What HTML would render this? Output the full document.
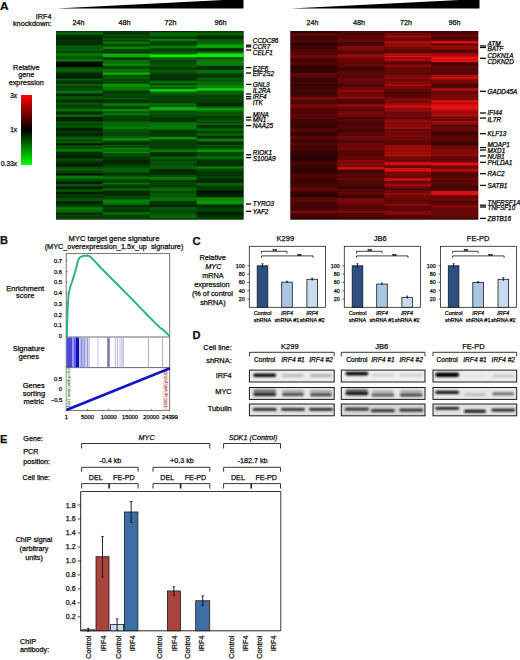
<!DOCTYPE html>
<html><head><meta charset="utf-8"><style>
html,body{margin:0;padding:0;background:#fff;}
svg{display:block;font-family:"Liberation Sans",sans-serif;}
text{stroke:#000;stroke-width:0.25px;paint-order:stroke;}
</style></head><body>
<svg width="520" height="660" viewBox="0 0 520 660">
<text transform="translate(0,9.8) scale(1.12,1)" font-size="10.6" font-weight="bold" fill="#111">A</text>
<text x="51.5" y="19.4" font-size="7.3" text-anchor="end" font-weight="normal" font-style="normal" fill="#111" >IRF4</text>
<text x="51.5" y="26.4" font-size="7.3" text-anchor="end" font-weight="normal" font-style="normal" fill="#111" >knockdown:</text>
<path d="M56,8.5 L243.5,-1 L243.5,8.5 Z" fill="#000" stroke="none" stroke-width="0.8" />
<path d="M290.5,8.5 L479.5,-1 L479.5,8.5 Z" fill="#000" stroke="none" stroke-width="0.8" />
<text x="78.5" y="25.3" font-size="7.2" text-anchor="middle" font-weight="normal" font-style="normal" fill="#111" >24h</text>
<text x="124.5" y="25.3" font-size="7.2" text-anchor="middle" font-weight="normal" font-style="normal" fill="#111" >48h</text>
<text x="170.5" y="25.3" font-size="7.2" text-anchor="middle" font-weight="normal" font-style="normal" fill="#111" >72h</text>
<text x="220.4" y="25.3" font-size="7.2" text-anchor="middle" font-weight="normal" font-style="normal" fill="#111" >96h</text>
<text x="312.5" y="25.3" font-size="7.2" text-anchor="middle" font-weight="normal" font-style="normal" fill="#111" >24h</text>
<text x="358.9" y="25.3" font-size="7.2" text-anchor="middle" font-weight="normal" font-style="normal" fill="#111" >48h</text>
<text x="406" y="25.3" font-size="7.2" text-anchor="middle" font-weight="normal" font-style="normal" fill="#111" >72h</text>
<text x="454.4" y="25.3" font-size="7.2" text-anchor="middle" font-weight="normal" font-style="normal" fill="#111" >96h</text>
<rect x="56" y="31" width="187.5" height="188.5" fill="rgb(4,73,3)" />
<rect x="56.0" y="31" width="47.27" height="1" fill="rgb(3,66,3)" />
<rect x="56.0" y="32" width="47.27" height="1" fill="rgb(5,91,4)" />
<rect x="56.0" y="33" width="47.27" height="1" fill="rgb(6,111,5)" />
<rect x="56.0" y="34" width="47.27" height="1" fill="rgb(4,79,3)" />
<rect x="56.0" y="35" width="47.27" height="1" fill="rgb(3,60,3)" />
<rect x="56.0" y="36" width="47.27" height="1" fill="rgb(2,39,1)" />
<rect x="56.0" y="37" width="47.27" height="1" fill="rgb(2,47,2)" />
<rect x="56.0" y="38" width="47.27" height="1" fill="rgb(2,40,2)" />
<rect x="56.0" y="39" width="47.27" height="1" fill="rgb(2,38,1)" />
<rect x="56.0" y="40" width="47.27" height="1" fill="rgb(2,48,2)" />
<rect x="56.0" y="41" width="47.27" height="1" fill="rgb(3,54,2)" />
<rect x="56.0" y="42" width="47.27" height="2" fill="rgb(2,46,2)" />
<rect x="56.0" y="44" width="47.27" height="1" fill="rgb(2,44,2)" />
<rect x="56.0" y="45" width="47.27" height="1" fill="rgb(4,79,3)" />
<rect x="56.0" y="46" width="47.27" height="2" fill="rgb(5,92,4)" />
<rect x="56.0" y="48" width="47.27" height="1" fill="rgb(5,89,4)" />
<rect x="56.0" y="49" width="47.27" height="2" fill="rgb(5,96,4)" />
<rect x="56.0" y="51" width="47.27" height="2" fill="rgb(4,73,3)" />
<rect x="56.0" y="53" width="47.27" height="1" fill="rgb(6,112,5)" />
<rect x="56.0" y="54" width="47.27" height="2" fill="rgb(7,118,5)" />
<rect x="56.0" y="56" width="47.27" height="1" fill="rgb(5,86,4)" />
<rect x="56.0" y="57" width="47.27" height="2" fill="rgb(5,83,4)" />
<rect x="56.0" y="59" width="47.27" height="1" fill="rgb(7,119,5)" />
<rect x="56.0" y="60" width="47.27" height="1" fill="rgb(7,120,6)" />
<rect x="56.0" y="61" width="47.27" height="1" fill="rgb(4,74,3)" />
<rect x="56.0" y="62" width="47.27" height="2" fill="rgb(0,9,0)" />
<rect x="56.0" y="64" width="47.27" height="3" fill="rgb(0,8,0)" />
<rect x="56.0" y="67" width="47.27" height="1" fill="rgb(4,74,3)" />
<rect x="56.0" y="68" width="47.27" height="1" fill="rgb(5,87,4)" />
<rect x="56.0" y="69" width="47.27" height="1" fill="rgb(5,89,4)" />
<rect x="56.0" y="70" width="47.27" height="1" fill="rgb(6,104,5)" />
<rect x="56.0" y="71" width="47.27" height="1" fill="rgb(5,88,4)" />
<rect x="56.0" y="72" width="47.27" height="1" fill="rgb(4,66,3)" />
<rect x="56.0" y="73" width="47.27" height="2" fill="rgb(2,43,2)" />
<rect x="56.0" y="75" width="47.27" height="1" fill="rgb(2,34,1)" />
<rect x="56.0" y="76" width="47.27" height="2" fill="rgb(2,35,1)" />
<rect x="56.0" y="78" width="47.27" height="1" fill="rgb(2,49,2)" />
<rect x="56.0" y="79" width="47.27" height="1" fill="rgb(6,101,5)" />
<rect x="56.0" y="80" width="47.27" height="1" fill="rgb(4,73,3)" />
<rect x="56.0" y="81" width="47.27" height="1" fill="rgb(3,61,3)" />
<rect x="56.0" y="82" width="47.27" height="1" fill="rgb(2,40,2)" />
<rect x="56.0" y="83" width="47.27" height="1" fill="rgb(3,58,2)" />
<rect x="56.0" y="84" width="47.27" height="1" fill="rgb(5,96,4)" />
<rect x="56.0" y="85" width="47.27" height="2" fill="rgb(4,82,4)" />
<rect x="56.0" y="87" width="47.27" height="1" fill="rgb(3,59,2)" />
<rect x="56.0" y="88" width="47.27" height="2" fill="rgb(4,76,3)" />
<rect x="56.0" y="90" width="47.27" height="1" fill="rgb(5,90,4)" />
<rect x="56.0" y="91" width="47.27" height="1" fill="rgb(6,113,5)" />
<rect x="56.0" y="92" width="47.27" height="1" fill="rgb(7,120,6)" />
<rect x="56.0" y="93" width="47.27" height="1" fill="rgb(4,75,3)" />
<rect x="56.0" y="94" width="47.27" height="2" fill="rgb(2,38,1)" />
<rect x="56.0" y="96" width="47.27" height="1" fill="rgb(4,77,3)" />
<rect x="56.0" y="97" width="47.27" height="2" fill="rgb(4,82,4)" />
<rect x="56.0" y="99" width="47.27" height="1" fill="rgb(4,68,3)" />
<rect x="56.0" y="100" width="47.27" height="1" fill="rgb(2,36,1)" />
<rect x="56.0" y="101" width="47.27" height="1" fill="rgb(2,45,2)" />
<rect x="56.0" y="102" width="47.27" height="1" fill="rgb(4,71,3)" />
<rect x="56.0" y="103" width="47.27" height="1" fill="rgb(5,83,4)" />
<rect x="56.0" y="104" width="47.27" height="1" fill="rgb(4,78,3)" />
<rect x="56.0" y="105" width="47.27" height="1" fill="rgb(3,62,3)" />
<rect x="56.0" y="106" width="47.27" height="1" fill="rgb(3,64,3)" />
<rect x="56.0" y="107" width="47.27" height="1" fill="rgb(4,69,3)" />
<rect x="56.0" y="108" width="47.27" height="1" fill="rgb(4,81,4)" />
<rect x="56.0" y="109" width="47.27" height="2" fill="rgb(6,114,5)" />
<rect x="56.0" y="111" width="47.27" height="1" fill="rgb(4,78,3)" />
<rect x="56.0" y="112" width="47.27" height="1" fill="rgb(2,45,2)" />
<rect x="56.0" y="113" width="47.27" height="1" fill="rgb(2,40,2)" />
<rect x="56.0" y="114" width="47.27" height="1" fill="rgb(4,81,4)" />
<rect x="56.0" y="115" width="47.27" height="1" fill="rgb(6,103,5)" />
<rect x="56.0" y="116" width="47.27" height="1" fill="rgb(5,96,4)" />
<rect x="56.0" y="117" width="47.27" height="3" fill="rgb(1,30,1)" />
<rect x="56.0" y="120" width="47.27" height="1" fill="rgb(1,29,1)" />
<rect x="56.0" y="121" width="47.27" height="1" fill="rgb(3,64,3)" />
<rect x="56.0" y="122" width="47.27" height="1" fill="rgb(5,89,4)" />
<rect x="56.0" y="123" width="47.27" height="2" fill="rgb(4,73,3)" />
<rect x="56.0" y="125" width="47.27" height="1" fill="rgb(4,79,3)" />
<rect x="56.0" y="126" width="47.27" height="1" fill="rgb(5,91,4)" />
<rect x="56.0" y="127" width="47.27" height="1" fill="rgb(4,78,3)" />
<rect x="56.0" y="128" width="47.27" height="2" fill="rgb(1,31,1)" />
<rect x="56.0" y="130" width="47.27" height="1" fill="rgb(2,42,2)" />
<rect x="56.0" y="131" width="47.27" height="1" fill="rgb(2,49,2)" />
<rect x="56.0" y="132" width="47.27" height="1" fill="rgb(3,56,2)" />
<rect x="56.0" y="133" width="47.27" height="1" fill="rgb(2,40,2)" />
<rect x="56.0" y="134" width="47.27" height="1" fill="rgb(2,36,1)" />
<rect x="56.0" y="135" width="47.27" height="1" fill="rgb(2,42,2)" />
<rect x="56.0" y="136" width="47.27" height="1" fill="rgb(3,65,3)" />
<rect x="56.0" y="137" width="47.27" height="1" fill="rgb(5,92,4)" />
<rect x="56.0" y="138" width="47.27" height="1" fill="rgb(6,102,5)" />
<rect x="56.0" y="139" width="47.27" height="2" fill="rgb(4,79,3)" />
<rect x="56.0" y="141" width="47.27" height="1" fill="rgb(4,78,3)" />
<rect x="56.0" y="142" width="47.27" height="1" fill="rgb(6,104,5)" />
<rect x="56.0" y="143" width="47.27" height="1" fill="rgb(2,37,1)" />
<rect x="56.0" y="144" width="47.27" height="1" fill="rgb(1,28,1)" />
<rect x="56.0" y="145" width="47.27" height="1" fill="rgb(2,48,2)" />
<rect x="56.0" y="146" width="47.27" height="1" fill="rgb(6,102,5)" />
<rect x="56.0" y="147" width="47.27" height="1" fill="rgb(4,71,3)" />
<rect x="56.0" y="148" width="47.27" height="1" fill="rgb(5,86,4)" />
<rect x="56.0" y="149" width="47.27" height="2" fill="rgb(7,120,6)" />
<rect x="56.0" y="151" width="47.27" height="1" fill="rgb(5,95,4)" />
<rect x="56.0" y="152" width="47.27" height="1" fill="rgb(3,50,2)" />
<rect x="56.0" y="153" width="47.27" height="1" fill="rgb(2,43,2)" />
<rect x="56.0" y="154" width="47.27" height="1" fill="rgb(3,55,2)" />
<rect x="56.0" y="155" width="47.27" height="1" fill="rgb(1,30,1)" />
<rect x="56.0" y="156" width="47.27" height="1" fill="rgb(2,34,1)" />
<rect x="56.0" y="157" width="47.27" height="1" fill="rgb(1,26,1)" />
<rect x="56.0" y="158" width="47.27" height="1" fill="rgb(3,58,2)" />
<rect x="56.0" y="159" width="47.27" height="1" fill="rgb(5,83,4)" />
<rect x="56.0" y="160" width="47.27" height="1" fill="rgb(4,72,3)" />
<rect x="56.0" y="161" width="47.27" height="1" fill="rgb(3,52,2)" />
<rect x="56.0" y="162" width="47.27" height="1" fill="rgb(2,47,2)" />
<rect x="56.0" y="163" width="47.27" height="1" fill="rgb(2,44,2)" />
<rect x="56.0" y="164" width="47.27" height="1" fill="rgb(1,23,1)" />
<rect x="56.0" y="165" width="47.27" height="1" fill="rgb(1,32,1)" />
<rect x="56.0" y="166" width="47.27" height="1" fill="rgb(2,47,2)" />
<rect x="56.0" y="167" width="47.27" height="2" fill="rgb(4,77,3)" />
<rect x="56.0" y="169" width="47.27" height="1" fill="rgb(6,105,5)" />
<rect x="56.0" y="170" width="47.27" height="1" fill="rgb(4,77,3)" />
<rect x="56.0" y="171" width="47.27" height="1" fill="rgb(4,68,3)" />
<rect x="56.0" y="172" width="47.27" height="1" fill="rgb(3,66,3)" />
<rect x="56.0" y="173" width="47.27" height="1" fill="rgb(2,34,1)" />
<rect x="56.0" y="174" width="47.27" height="1" fill="rgb(1,32,1)" />
<rect x="56.0" y="175" width="47.27" height="1" fill="rgb(3,60,3)" />
<rect x="56.0" y="176" width="47.27" height="2" fill="rgb(7,120,6)" />
<rect x="56.0" y="178" width="47.27" height="1" fill="rgb(6,112,5)" />
<rect x="56.0" y="179" width="47.27" height="1" fill="rgb(4,80,4)" />
<rect x="56.0" y="180" width="47.27" height="1" fill="rgb(4,68,3)" />
<rect x="56.0" y="181" width="47.27" height="1" fill="rgb(3,59,2)" />
<rect x="56.0" y="182" width="47.27" height="1" fill="rgb(1,20,1)" />
<rect x="56.0" y="183" width="47.27" height="1" fill="rgb(2,35,1)" />
<rect x="56.0" y="184" width="47.27" height="2" fill="rgb(5,85,4)" />
<rect x="56.0" y="186" width="47.27" height="1" fill="rgb(3,57,2)" />
<rect x="56.0" y="187" width="47.27" height="1" fill="rgb(1,29,1)" />
<rect x="56.0" y="188" width="47.27" height="1" fill="rgb(2,35,1)" />
<rect x="56.0" y="189" width="47.27" height="1" fill="rgb(4,72,3)" />
<rect x="56.0" y="190" width="47.27" height="1" fill="rgb(4,82,4)" />
<rect x="56.0" y="191" width="47.27" height="1" fill="rgb(4,70,3)" />
<rect x="56.0" y="192" width="47.27" height="1" fill="rgb(1,31,1)" />
<rect x="56.0" y="193" width="47.27" height="1" fill="rgb(2,34,1)" />
<rect x="56.0" y="194" width="47.27" height="1" fill="rgb(2,47,2)" />
<rect x="56.0" y="195" width="47.27" height="1" fill="rgb(4,68,3)" />
<rect x="56.0" y="196" width="47.27" height="2" fill="rgb(3,50,2)" />
<rect x="56.0" y="198" width="47.27" height="1" fill="rgb(4,81,4)" />
<rect x="56.0" y="199" width="47.27" height="1" fill="rgb(4,83,4)" />
<rect x="56.0" y="200" width="47.27" height="1" fill="rgb(5,88,4)" />
<rect x="56.0" y="201" width="47.27" height="2" fill="rgb(2,35,1)" />
<rect x="56.0" y="203" width="47.27" height="1" fill="rgb(2,37,1)" />
<rect x="56.0" y="204" width="47.27" height="1" fill="rgb(2,49,2)" />
<rect x="56.0" y="205" width="47.27" height="1" fill="rgb(3,65,3)" />
<rect x="56.0" y="206" width="47.27" height="1" fill="rgb(4,75,3)" />
<rect x="56.0" y="207" width="47.27" height="1" fill="rgb(6,106,5)" />
<rect x="56.0" y="208" width="47.27" height="1" fill="rgb(7,120,6)" />
<rect x="56.0" y="209" width="47.27" height="1" fill="rgb(7,119,5)" />
<rect x="56.0" y="210" width="47.27" height="2" fill="rgb(5,99,4)" />
<rect x="56.0" y="212" width="47.27" height="1" fill="rgb(5,86,4)" />
<rect x="56.0" y="213" width="47.27" height="1" fill="rgb(2,38,1)" />
<rect x="56.0" y="214" width="47.27" height="1" fill="rgb(3,54,2)" />
<rect x="56.0" y="215" width="47.27" height="1" fill="rgb(4,66,3)" />
<rect x="56.0" y="216" width="47.27" height="2" fill="rgb(3,61,3)" />
<rect x="56.0" y="218" width="47.27" height="1.5" fill="rgb(3,66,3)" />
<rect x="102.88" y="31" width="47.27" height="1" fill="rgb(3,54,2)" />
<rect x="102.88" y="32" width="47.27" height="2" fill="rgb(3,56,2)" />
<rect x="102.88" y="34" width="47.27" height="3" fill="rgb(4,70,3)" />
<rect x="102.88" y="37" width="47.27" height="1" fill="rgb(4,67,3)" />
<rect x="102.88" y="38" width="47.27" height="1" fill="rgb(5,84,4)" />
<rect x="102.88" y="39" width="47.27" height="1" fill="rgb(5,89,4)" />
<rect x="102.88" y="40" width="47.27" height="1" fill="rgb(4,69,3)" />
<rect x="102.88" y="41" width="47.27" height="1" fill="rgb(5,86,4)" />
<rect x="102.88" y="42" width="47.27" height="1" fill="rgb(7,123,6)" />
<rect x="102.88" y="43" width="47.27" height="1" fill="rgb(6,101,5)" />
<rect x="102.88" y="44" width="47.27" height="1" fill="rgb(5,84,4)" />
<rect x="102.88" y="45" width="47.27" height="1" fill="rgb(3,61,3)" />
<rect x="102.88" y="46" width="47.27" height="1" fill="rgb(6,104,5)" />
<rect x="102.88" y="47" width="47.27" height="2" fill="rgb(7,126,6)" />
<rect x="102.88" y="49" width="47.27" height="1" fill="rgb(4,70,3)" />
<rect x="102.88" y="50" width="47.27" height="1" fill="rgb(3,65,3)" />
<rect x="102.88" y="51" width="47.27" height="1" fill="rgb(4,74,3)" />
<rect x="102.88" y="52" width="47.27" height="1" fill="rgb(2,49,2)" />
<rect x="102.88" y="53" width="47.27" height="1" fill="rgb(7,119,5)" />
<rect x="102.88" y="54" width="47.27" height="3" fill="rgb(10,176,8)" />
<rect x="102.88" y="57" width="47.27" height="1" fill="rgb(4,83,4)" />
<rect x="102.88" y="58" width="47.27" height="1" fill="rgb(3,57,2)" />
<rect x="102.88" y="59" width="47.27" height="1" fill="rgb(3,61,3)" />
<rect x="102.88" y="60" width="47.27" height="2" fill="rgb(7,117,5)" />
<rect x="102.88" y="62" width="47.27" height="1" fill="rgb(6,107,5)" />
<rect x="102.88" y="63" width="47.27" height="1" fill="rgb(7,121,6)" />
<rect x="102.88" y="64" width="47.27" height="1" fill="rgb(8,141,7)" />
<rect x="102.88" y="65" width="47.27" height="1" fill="rgb(7,120,6)" />
<rect x="102.88" y="66" width="47.27" height="1" fill="rgb(4,72,3)" />
<rect x="102.88" y="67" width="47.27" height="1" fill="rgb(4,70,3)" />
<rect x="102.88" y="68" width="47.27" height="1" fill="rgb(4,71,3)" />
<rect x="102.88" y="69" width="47.27" height="2" fill="rgb(6,112,5)" />
<rect x="102.88" y="71" width="47.27" height="1" fill="rgb(6,108,5)" />
<rect x="102.88" y="72" width="47.27" height="1" fill="rgb(8,139,6)" />
<rect x="102.88" y="73" width="47.27" height="1" fill="rgb(11,188,9)" />
<rect x="102.88" y="74" width="47.27" height="1" fill="rgb(8,137,6)" />
<rect x="102.88" y="75" width="47.27" height="1" fill="rgb(5,88,4)" />
<rect x="102.88" y="76" width="47.27" height="1" fill="rgb(4,69,3)" />
<rect x="102.88" y="77" width="47.27" height="1" fill="rgb(5,98,4)" />
<rect x="102.88" y="78" width="47.27" height="1" fill="rgb(5,86,4)" />
<rect x="102.88" y="79" width="47.27" height="3" fill="rgb(4,73,3)" />
<rect x="102.88" y="82" width="47.27" height="1" fill="rgb(4,67,3)" />
<rect x="102.88" y="83" width="47.27" height="1" fill="rgb(5,93,4)" />
<rect x="102.88" y="84" width="47.27" height="3" fill="rgb(8,147,7)" />
<rect x="102.88" y="87" width="47.27" height="3" fill="rgb(7,120,6)" />
<rect x="102.88" y="90" width="47.27" height="1" fill="rgb(5,97,4)" />
<rect x="102.88" y="91" width="47.27" height="3" fill="rgb(3,60,3)" />
<rect x="102.88" y="94" width="47.27" height="1" fill="rgb(4,73,3)" />
<rect x="102.88" y="95" width="47.27" height="1" fill="rgb(4,79,3)" />
<rect x="102.88" y="96" width="47.27" height="2" fill="rgb(4,68,3)" />
<rect x="102.88" y="98" width="47.27" height="1" fill="rgb(5,94,4)" />
<rect x="102.88" y="99" width="47.27" height="1" fill="rgb(4,70,3)" />
<rect x="102.88" y="100" width="47.27" height="2" fill="rgb(2,49,2)" />
<rect x="102.88" y="102" width="47.27" height="1" fill="rgb(3,51,2)" />
<rect x="102.88" y="103" width="47.27" height="1" fill="rgb(6,102,5)" />
<rect x="102.88" y="104" width="47.27" height="1" fill="rgb(7,125,6)" />
<rect x="102.88" y="105" width="47.27" height="1" fill="rgb(7,122,6)" />
<rect x="102.88" y="106" width="47.27" height="1" fill="rgb(4,69,3)" />
<rect x="102.88" y="107" width="47.27" height="1" fill="rgb(4,67,3)" />
<rect x="102.88" y="108" width="47.27" height="1" fill="rgb(4,78,3)" />
<rect x="102.88" y="109" width="47.27" height="1" fill="rgb(7,126,6)" />
<rect x="102.88" y="110" width="47.27" height="1" fill="rgb(8,143,7)" />
<rect x="102.88" y="111" width="47.27" height="1" fill="rgb(6,104,5)" />
<rect x="102.88" y="112" width="47.27" height="1" fill="rgb(5,90,4)" />
<rect x="102.88" y="113" width="47.27" height="2" fill="rgb(6,113,5)" />
<rect x="102.88" y="115" width="47.27" height="1" fill="rgb(5,92,4)" />
<rect x="102.88" y="116" width="47.27" height="1" fill="rgb(3,61,3)" />
<rect x="102.88" y="117" width="47.27" height="2" fill="rgb(4,67,3)" />
<rect x="102.88" y="119" width="47.27" height="1" fill="rgb(3,59,2)" />
<rect x="102.88" y="120" width="47.27" height="1" fill="rgb(3,63,3)" />
<rect x="102.88" y="121" width="47.27" height="1" fill="rgb(5,88,4)" />
<rect x="102.88" y="122" width="47.27" height="2" fill="rgb(6,101,5)" />
<rect x="102.88" y="124" width="47.27" height="1" fill="rgb(6,104,5)" />
<rect x="102.88" y="125" width="47.27" height="2" fill="rgb(6,108,5)" />
<rect x="102.88" y="127" width="47.27" height="1" fill="rgb(7,125,6)" />
<rect x="102.88" y="128" width="47.27" height="1" fill="rgb(6,115,5)" />
<rect x="102.88" y="129" width="47.27" height="3" fill="rgb(5,83,4)" />
<rect x="102.88" y="132" width="47.27" height="1" fill="rgb(4,73,3)" />
<rect x="102.88" y="133" width="47.27" height="1" fill="rgb(4,70,3)" />
<rect x="102.88" y="134" width="47.27" height="1" fill="rgb(4,74,3)" />
<rect x="102.88" y="135" width="47.27" height="1" fill="rgb(4,75,3)" />
<rect x="102.88" y="136" width="47.27" height="1" fill="rgb(5,92,4)" />
<rect x="102.88" y="137" width="47.27" height="1" fill="rgb(6,107,5)" />
<rect x="102.88" y="138" width="47.27" height="1" fill="rgb(7,120,6)" />
<rect x="102.88" y="139" width="47.27" height="1" fill="rgb(9,153,7)" />
<rect x="102.88" y="140" width="47.27" height="1" fill="rgb(6,109,5)" />
<rect x="102.88" y="141" width="47.27" height="1" fill="rgb(4,73,3)" />
<rect x="102.88" y="142" width="47.27" height="2" fill="rgb(3,50,2)" />
<rect x="102.88" y="144" width="47.27" height="1" fill="rgb(3,53,2)" />
<rect x="102.88" y="145" width="47.27" height="1" fill="rgb(4,82,4)" />
<rect x="102.88" y="146" width="47.27" height="1" fill="rgb(4,74,3)" />
<rect x="102.88" y="147" width="47.27" height="1" fill="rgb(5,85,4)" />
<rect x="102.88" y="148" width="47.27" height="1" fill="rgb(7,131,6)" />
<rect x="102.88" y="149" width="47.27" height="2" fill="rgb(6,107,5)" />
<rect x="102.88" y="151" width="47.27" height="1" fill="rgb(6,112,5)" />
<rect x="102.88" y="152" width="47.27" height="1" fill="rgb(8,139,6)" />
<rect x="102.88" y="153" width="47.27" height="1" fill="rgb(4,76,3)" />
<rect x="102.88" y="154" width="47.27" height="2" fill="rgb(4,78,3)" />
<rect x="102.88" y="156" width="47.27" height="1" fill="rgb(3,64,3)" />
<rect x="102.88" y="157" width="47.27" height="1" fill="rgb(3,51,2)" />
<rect x="102.88" y="158" width="47.27" height="2" fill="rgb(3,52,2)" />
<rect x="102.88" y="160" width="47.27" height="1" fill="rgb(2,35,1)" />
<rect x="102.88" y="161" width="47.27" height="2" fill="rgb(2,39,1)" />
<rect x="102.88" y="163" width="47.27" height="1" fill="rgb(2,41,2)" />
<rect x="102.88" y="164" width="47.27" height="2" fill="rgb(3,56,2)" />
<rect x="102.88" y="166" width="47.27" height="2" fill="rgb(4,74,3)" />
<rect x="102.88" y="168" width="47.27" height="1" fill="rgb(5,91,4)" />
<rect x="102.88" y="169" width="47.27" height="1" fill="rgb(6,101,5)" />
<rect x="102.88" y="170" width="47.27" height="2" fill="rgb(5,95,4)" />
<rect x="102.88" y="172" width="47.27" height="1" fill="rgb(4,72,3)" />
<rect x="102.88" y="173" width="47.27" height="1" fill="rgb(3,55,2)" />
<rect x="102.88" y="174" width="47.27" height="1" fill="rgb(3,53,2)" />
<rect x="102.88" y="175" width="47.27" height="1" fill="rgb(4,69,3)" />
<rect x="102.88" y="176" width="47.27" height="1" fill="rgb(5,97,4)" />
<rect x="102.88" y="177" width="47.27" height="2" fill="rgb(6,112,5)" />
<rect x="102.88" y="179" width="47.27" height="1" fill="rgb(4,77,3)" />
<rect x="102.88" y="180" width="47.27" height="2" fill="rgb(3,64,3)" />
<rect x="102.88" y="182" width="47.27" height="1" fill="rgb(4,81,4)" />
<rect x="102.88" y="183" width="47.27" height="1" fill="rgb(6,114,5)" />
<rect x="102.88" y="184" width="47.27" height="1" fill="rgb(4,82,4)" />
<rect x="102.88" y="185" width="47.27" height="1" fill="rgb(4,67,3)" />
<rect x="102.88" y="186" width="47.27" height="1" fill="rgb(2,46,2)" />
<rect x="102.88" y="187" width="47.27" height="1" fill="rgb(3,50,2)" />
<rect x="102.88" y="188" width="47.27" height="1" fill="rgb(5,88,4)" />
<rect x="102.88" y="189" width="47.27" height="1" fill="rgb(6,101,5)" />
<rect x="102.88" y="190" width="47.27" height="1" fill="rgb(4,76,3)" />
<rect x="102.88" y="191" width="47.27" height="2" fill="rgb(2,42,2)" />
<rect x="102.88" y="193" width="47.27" height="1" fill="rgb(2,41,2)" />
<rect x="102.88" y="194" width="47.27" height="1" fill="rgb(2,35,1)" />
<rect x="102.88" y="195" width="47.27" height="1" fill="rgb(2,48,2)" />
<rect x="102.88" y="196" width="47.27" height="1" fill="rgb(4,76,3)" />
<rect x="102.88" y="197" width="47.27" height="2" fill="rgb(4,68,3)" />
<rect x="102.88" y="199" width="47.27" height="1" fill="rgb(6,101,5)" />
<rect x="102.88" y="200" width="47.27" height="2" fill="rgb(7,128,6)" />
<rect x="102.88" y="202" width="47.27" height="2" fill="rgb(7,118,5)" />
<rect x="102.88" y="204" width="47.27" height="1" fill="rgb(5,95,4)" />
<rect x="102.88" y="205" width="47.27" height="2" fill="rgb(2,49,2)" />
<rect x="102.88" y="207" width="47.27" height="2" fill="rgb(3,65,3)" />
<rect x="102.88" y="209" width="47.27" height="1" fill="rgb(3,63,3)" />
<rect x="102.88" y="210" width="47.27" height="1" fill="rgb(2,44,2)" />
<rect x="102.88" y="211" width="47.27" height="1" fill="rgb(3,55,2)" />
<rect x="102.88" y="212" width="47.27" height="1" fill="rgb(5,98,4)" />
<rect x="102.88" y="213" width="47.27" height="1" fill="rgb(6,109,5)" />
<rect x="102.88" y="214" width="47.27" height="1" fill="rgb(5,95,4)" />
<rect x="102.88" y="215" width="47.27" height="1" fill="rgb(4,69,3)" />
<rect x="102.88" y="216" width="47.27" height="3" fill="rgb(3,65,3)" />
<rect x="102.88" y="219" width="47.27" height="0.5" fill="rgb(3,52,2)" />
<rect x="149.75" y="31" width="47.27" height="1" fill="rgb(2,43,2)" />
<rect x="149.75" y="32" width="47.27" height="1" fill="rgb(5,86,4)" />
<rect x="149.75" y="33" width="47.27" height="1" fill="rgb(6,108,5)" />
<rect x="149.75" y="34" width="47.27" height="1" fill="rgb(5,98,4)" />
<rect x="149.75" y="35" width="47.27" height="1" fill="rgb(6,102,5)" />
<rect x="149.75" y="36" width="47.27" height="1" fill="rgb(4,82,4)" />
<rect x="149.75" y="37" width="47.27" height="1" fill="rgb(3,54,2)" />
<rect x="149.75" y="38" width="47.27" height="1" fill="rgb(3,64,3)" />
<rect x="149.75" y="39" width="47.27" height="1" fill="rgb(7,130,6)" />
<rect x="149.75" y="40" width="47.27" height="1" fill="rgb(7,127,6)" />
<rect x="149.75" y="41" width="47.27" height="2" fill="rgb(4,71,3)" />
<rect x="149.75" y="43" width="47.27" height="2" fill="rgb(3,64,3)" />
<rect x="149.75" y="45" width="47.27" height="1" fill="rgb(5,96,4)" />
<rect x="149.75" y="46" width="47.27" height="2" fill="rgb(7,126,6)" />
<rect x="149.75" y="48" width="47.27" height="1" fill="rgb(5,86,4)" />
<rect x="149.75" y="49" width="47.27" height="2" fill="rgb(3,62,3)" />
<rect x="149.75" y="51" width="47.27" height="1" fill="rgb(4,74,3)" />
<rect x="149.75" y="52" width="47.27" height="1" fill="rgb(5,85,4)" />
<rect x="149.75" y="53" width="47.27" height="1" fill="rgb(6,110,5)" />
<rect x="149.75" y="54" width="47.27" height="1" fill="rgb(11,184,9)" />
<rect x="149.75" y="55" width="47.27" height="1" fill="rgb(14,235,11)" />
<rect x="149.75" y="56" width="47.27" height="1" fill="rgb(13,228,11)" />
<rect x="149.75" y="57" width="47.27" height="1" fill="rgb(7,132,6)" />
<rect x="149.75" y="58" width="47.27" height="1" fill="rgb(5,92,4)" />
<rect x="149.75" y="59" width="47.27" height="1" fill="rgb(5,90,4)" />
<rect x="149.75" y="60" width="47.27" height="2" fill="rgb(4,67,3)" />
<rect x="149.75" y="62" width="47.27" height="2" fill="rgb(4,73,3)" />
<rect x="149.75" y="64" width="47.27" height="3" fill="rgb(5,89,4)" />
<rect x="149.75" y="67" width="47.27" height="1" fill="rgb(4,68,3)" />
<rect x="149.75" y="68" width="47.27" height="1" fill="rgb(3,59,2)" />
<rect x="149.75" y="69" width="47.27" height="1" fill="rgb(3,63,3)" />
<rect x="149.75" y="70" width="47.27" height="2" fill="rgb(5,94,4)" />
<rect x="149.75" y="72" width="47.27" height="1" fill="rgb(5,85,4)" />
<rect x="149.75" y="73" width="47.27" height="2" fill="rgb(3,59,2)" />
<rect x="149.75" y="75" width="47.27" height="3" fill="rgb(3,53,2)" />
<rect x="149.75" y="78" width="47.27" height="1" fill="rgb(2,46,2)" />
<rect x="149.75" y="79" width="47.27" height="1" fill="rgb(2,45,2)" />
<rect x="149.75" y="80" width="47.27" height="1" fill="rgb(3,64,3)" />
<rect x="149.75" y="81" width="47.27" height="2" fill="rgb(6,112,5)" />
<rect x="149.75" y="83" width="47.27" height="1" fill="rgb(5,87,4)" />
<rect x="149.75" y="84" width="47.27" height="1" fill="rgb(3,62,3)" />
<rect x="149.75" y="85" width="47.27" height="1" fill="rgb(6,109,5)" />
<rect x="149.75" y="86" width="47.27" height="1" fill="rgb(7,126,6)" />
<rect x="149.75" y="87" width="47.27" height="1" fill="rgb(5,86,4)" />
<rect x="149.75" y="88" width="47.27" height="1" fill="rgb(5,96,4)" />
<rect x="149.75" y="89" width="47.27" height="2" fill="rgb(12,200,10)" />
<rect x="149.75" y="91" width="47.27" height="1" fill="rgb(10,168,8)" />
<rect x="149.75" y="92" width="47.27" height="2" fill="rgb(5,98,4)" />
<rect x="149.75" y="94" width="47.27" height="2" fill="rgb(4,78,3)" />
<rect x="149.75" y="96" width="47.27" height="1" fill="rgb(3,60,3)" />
<rect x="149.75" y="97" width="47.27" height="3" fill="rgb(3,62,3)" />
<rect x="149.75" y="100" width="47.27" height="1" fill="rgb(4,70,3)" />
<rect x="149.75" y="101" width="47.27" height="1" fill="rgb(3,62,3)" />
<rect x="149.75" y="102" width="47.27" height="1" fill="rgb(3,61,3)" />
<rect x="149.75" y="103" width="47.27" height="1" fill="rgb(5,93,4)" />
<rect x="149.75" y="104" width="47.27" height="2" fill="rgb(6,105,5)" />
<rect x="149.75" y="106" width="47.27" height="1" fill="rgb(5,90,4)" />
<rect x="149.75" y="107" width="47.27" height="2" fill="rgb(10,168,8)" />
<rect x="149.75" y="109" width="47.27" height="1" fill="rgb(10,169,8)" />
<rect x="149.75" y="110" width="47.27" height="1" fill="rgb(7,126,6)" />
<rect x="149.75" y="111" width="47.27" height="1" fill="rgb(4,77,3)" />
<rect x="149.75" y="112" width="47.27" height="2" fill="rgb(5,83,4)" />
<rect x="149.75" y="114" width="47.27" height="1" fill="rgb(4,79,3)" />
<rect x="149.75" y="115" width="47.27" height="1" fill="rgb(4,75,3)" />
<rect x="149.75" y="116" width="47.27" height="1" fill="rgb(4,70,3)" />
<rect x="149.75" y="117" width="47.27" height="1" fill="rgb(3,64,3)" />
<rect x="149.75" y="118" width="47.27" height="1" fill="rgb(2,46,2)" />
<rect x="149.75" y="119" width="47.27" height="2" fill="rgb(3,51,2)" />
<rect x="149.75" y="121" width="47.27" height="1" fill="rgb(3,63,3)" />
<rect x="149.75" y="122" width="47.27" height="1" fill="rgb(5,94,4)" />
<rect x="149.75" y="123" width="47.27" height="2" fill="rgb(6,113,5)" />
<rect x="149.75" y="125" width="47.27" height="1" fill="rgb(7,116,5)" />
<rect x="149.75" y="126" width="47.27" height="2" fill="rgb(7,121,6)" />
<rect x="149.75" y="128" width="47.27" height="1" fill="rgb(7,120,6)" />
<rect x="149.75" y="129" width="47.27" height="1" fill="rgb(5,97,4)" />
<rect x="149.75" y="130" width="47.27" height="1" fill="rgb(3,60,3)" />
<rect x="149.75" y="131" width="47.27" height="1" fill="rgb(3,50,2)" />
<rect x="149.75" y="132" width="47.27" height="1" fill="rgb(3,53,2)" />
<rect x="149.75" y="133" width="47.27" height="1" fill="rgb(3,61,3)" />
<rect x="149.75" y="134" width="47.27" height="1" fill="rgb(3,60,3)" />
<rect x="149.75" y="135" width="47.27" height="1" fill="rgb(3,58,2)" />
<rect x="149.75" y="136" width="47.27" height="1" fill="rgb(4,81,4)" />
<rect x="149.75" y="137" width="47.27" height="2" fill="rgb(8,145,7)" />
<rect x="149.75" y="139" width="47.27" height="1" fill="rgb(6,101,5)" />
<rect x="149.75" y="140" width="47.27" height="1" fill="rgb(4,69,3)" />
<rect x="149.75" y="141" width="47.27" height="1" fill="rgb(3,59,2)" />
<rect x="149.75" y="142" width="47.27" height="1" fill="rgb(4,71,3)" />
<rect x="149.75" y="143" width="47.27" height="1" fill="rgb(3,61,3)" />
<rect x="149.75" y="144" width="47.27" height="1" fill="rgb(3,62,3)" />
<rect x="149.75" y="145" width="47.27" height="1" fill="rgb(3,57,2)" />
<rect x="149.75" y="146" width="47.27" height="1" fill="rgb(3,66,3)" />
<rect x="149.75" y="147" width="47.27" height="1" fill="rgb(3,58,2)" />
<rect x="149.75" y="148" width="47.27" height="1" fill="rgb(4,74,3)" />
<rect x="149.75" y="149" width="47.27" height="1" fill="rgb(5,91,4)" />
<rect x="149.75" y="150" width="47.27" height="2" fill="rgb(7,118,5)" />
<rect x="149.75" y="152" width="47.27" height="1" fill="rgb(3,52,2)" />
<rect x="149.75" y="153" width="47.27" height="1" fill="rgb(2,49,2)" />
<rect x="149.75" y="154" width="47.27" height="2" fill="rgb(2,48,2)" />
<rect x="149.75" y="156" width="47.27" height="1" fill="rgb(4,70,3)" />
<rect x="149.75" y="157" width="47.27" height="2" fill="rgb(5,93,4)" />
<rect x="149.75" y="159" width="47.27" height="1" fill="rgb(4,77,3)" />
<rect x="149.75" y="160" width="47.27" height="1" fill="rgb(3,64,3)" />
<rect x="149.75" y="161" width="47.27" height="2" fill="rgb(5,84,4)" />
<rect x="149.75" y="163" width="47.27" height="1" fill="rgb(4,71,3)" />
<rect x="149.75" y="164" width="47.27" height="1" fill="rgb(4,74,3)" />
<rect x="149.75" y="165" width="47.27" height="1" fill="rgb(4,80,4)" />
<rect x="149.75" y="166" width="47.27" height="3" fill="rgb(5,93,4)" />
<rect x="149.75" y="169" width="47.27" height="1" fill="rgb(2,48,2)" />
<rect x="149.75" y="170" width="47.27" height="1" fill="rgb(2,35,1)" />
<rect x="149.75" y="171" width="47.27" height="2" fill="rgb(2,37,1)" />
<rect x="149.75" y="173" width="47.27" height="1" fill="rgb(2,44,2)" />
<rect x="149.75" y="174" width="47.27" height="1" fill="rgb(3,53,2)" />
<rect x="149.75" y="175" width="47.27" height="1" fill="rgb(4,78,3)" />
<rect x="149.75" y="176" width="47.27" height="1" fill="rgb(4,79,3)" />
<rect x="149.75" y="177" width="47.27" height="1" fill="rgb(7,123,6)" />
<rect x="149.75" y="178" width="47.27" height="2" fill="rgb(7,116,5)" />
<rect x="149.75" y="180" width="47.27" height="1" fill="rgb(3,64,3)" />
<rect x="149.75" y="181" width="47.27" height="1" fill="rgb(3,53,2)" />
<rect x="149.75" y="182" width="47.27" height="2" fill="rgb(4,66,3)" />
<rect x="149.75" y="184" width="47.27" height="2" fill="rgb(3,63,3)" />
<rect x="149.75" y="186" width="47.27" height="1" fill="rgb(3,57,2)" />
<rect x="149.75" y="187" width="47.27" height="1" fill="rgb(5,92,4)" />
<rect x="149.75" y="188" width="47.27" height="1" fill="rgb(5,93,4)" />
<rect x="149.75" y="189" width="47.27" height="1" fill="rgb(6,110,5)" />
<rect x="149.75" y="190" width="47.27" height="1" fill="rgb(5,90,4)" />
<rect x="149.75" y="191" width="47.27" height="2" fill="rgb(4,75,3)" />
<rect x="149.75" y="193" width="47.27" height="1" fill="rgb(4,81,4)" />
<rect x="149.75" y="194" width="47.27" height="2" fill="rgb(5,94,4)" />
<rect x="149.75" y="196" width="47.27" height="1" fill="rgb(5,88,4)" />
<rect x="149.75" y="197" width="47.27" height="1" fill="rgb(6,107,5)" />
<rect x="149.75" y="198" width="47.27" height="2" fill="rgb(6,110,5)" />
<rect x="149.75" y="200" width="47.27" height="1" fill="rgb(6,113,5)" />
<rect x="149.75" y="201" width="47.27" height="1" fill="rgb(3,55,2)" />
<rect x="149.75" y="202" width="47.27" height="1" fill="rgb(2,49,2)" />
<rect x="149.75" y="203" width="47.27" height="1" fill="rgb(3,52,2)" />
<rect x="149.75" y="204" width="47.27" height="1" fill="rgb(2,44,2)" />
<rect x="149.75" y="205" width="47.27" height="1" fill="rgb(2,42,2)" />
<rect x="149.75" y="206" width="47.27" height="1" fill="rgb(2,41,2)" />
<rect x="149.75" y="207" width="47.27" height="1" fill="rgb(4,78,3)" />
<rect x="149.75" y="208" width="47.27" height="1" fill="rgb(5,92,4)" />
<rect x="149.75" y="209" width="47.27" height="1" fill="rgb(4,82,4)" />
<rect x="149.75" y="210" width="47.27" height="1" fill="rgb(4,80,4)" />
<rect x="149.75" y="211" width="47.27" height="1" fill="rgb(3,64,3)" />
<rect x="149.75" y="212" width="47.27" height="2" fill="rgb(4,80,4)" />
<rect x="149.75" y="214" width="47.27" height="1" fill="rgb(5,85,4)" />
<rect x="149.75" y="215" width="47.27" height="2" fill="rgb(6,101,5)" />
<rect x="149.75" y="217" width="47.27" height="1" fill="rgb(6,108,5)" />
<rect x="149.75" y="218" width="47.27" height="1" fill="rgb(3,58,2)" />
<rect x="149.75" y="219" width="47.27" height="0.5" fill="rgb(2,49,2)" />
<rect x="196.62" y="31" width="46.88" height="1" fill="rgb(3,65,3)" />
<rect x="196.62" y="32" width="46.88" height="1" fill="rgb(4,73,3)" />
<rect x="196.62" y="33" width="46.88" height="2" fill="rgb(5,98,4)" />
<rect x="196.62" y="35" width="46.88" height="1" fill="rgb(4,78,3)" />
<rect x="196.62" y="36" width="46.88" height="2" fill="rgb(2,44,2)" />
<rect x="196.62" y="38" width="46.88" height="1" fill="rgb(2,43,2)" />
<rect x="196.62" y="39" width="46.88" height="1" fill="rgb(5,86,4)" />
<rect x="196.62" y="40" width="46.88" height="1" fill="rgb(5,93,4)" />
<rect x="196.62" y="41" width="46.88" height="1" fill="rgb(5,95,4)" />
<rect x="196.62" y="42" width="46.88" height="2" fill="rgb(5,99,4)" />
<rect x="196.62" y="44" width="46.88" height="1" fill="rgb(8,137,6)" />
<rect x="196.62" y="45" width="46.88" height="2" fill="rgb(9,165,8)" />
<rect x="196.62" y="47" width="46.88" height="1" fill="rgb(9,153,7)" />
<rect x="196.62" y="48" width="46.88" height="1" fill="rgb(3,59,2)" />
<rect x="196.62" y="49" width="46.88" height="1" fill="rgb(2,40,2)" />
<rect x="196.62" y="50" width="46.88" height="1" fill="rgb(2,42,2)" />
<rect x="196.62" y="51" width="46.88" height="1" fill="rgb(5,83,4)" />
<rect x="196.62" y="52" width="46.88" height="1" fill="rgb(6,109,5)" />
<rect x="196.62" y="53" width="46.88" height="1" fill="rgb(10,179,8)" />
<rect x="196.62" y="54" width="46.88" height="3" fill="rgb(14,235,11)" />
<rect x="196.62" y="57" width="46.88" height="1" fill="rgb(5,98,4)" />
<rect x="196.62" y="58" width="46.88" height="1" fill="rgb(4,76,3)" />
<rect x="196.62" y="59" width="46.88" height="1" fill="rgb(5,99,4)" />
<rect x="196.62" y="60" width="46.88" height="2" fill="rgb(7,124,6)" />
<rect x="196.62" y="62" width="46.88" height="1" fill="rgb(8,134,6)" />
<rect x="196.62" y="63" width="46.88" height="2" fill="rgb(7,126,6)" />
<rect x="196.62" y="65" width="46.88" height="1" fill="rgb(6,110,5)" />
<rect x="196.62" y="66" width="46.88" height="1" fill="rgb(3,58,2)" />
<rect x="196.62" y="67" width="46.88" height="1" fill="rgb(2,40,2)" />
<rect x="196.62" y="68" width="46.88" height="1" fill="rgb(3,50,2)" />
<rect x="196.62" y="69" width="46.88" height="1" fill="rgb(3,58,2)" />
<rect x="196.62" y="70" width="46.88" height="1" fill="rgb(6,113,5)" />
<rect x="196.62" y="71" width="46.88" height="2" fill="rgb(6,110,5)" />
<rect x="196.62" y="73" width="46.88" height="1" fill="rgb(4,75,3)" />
<rect x="196.62" y="74" width="46.88" height="1" fill="rgb(3,66,3)" />
<rect x="196.62" y="75" width="46.88" height="2" fill="rgb(3,55,2)" />
<rect x="196.62" y="77" width="46.88" height="1" fill="rgb(4,70,3)" />
<rect x="196.62" y="78" width="46.88" height="1" fill="rgb(5,93,4)" />
<rect x="196.62" y="79" width="46.88" height="1" fill="rgb(5,94,4)" />
<rect x="196.62" y="80" width="46.88" height="1" fill="rgb(4,81,4)" />
<rect x="196.62" y="81" width="46.88" height="1" fill="rgb(5,88,4)" />
<rect x="196.62" y="82" width="46.88" height="3" fill="rgb(6,108,5)" />
<rect x="196.62" y="85" width="46.88" height="1" fill="rgb(7,125,6)" />
<rect x="196.62" y="86" width="46.88" height="1" fill="rgb(7,131,6)" />
<rect x="196.62" y="87" width="46.88" height="1" fill="rgb(8,133,6)" />
<rect x="196.62" y="88" width="46.88" height="2" fill="rgb(12,202,10)" />
<rect x="196.62" y="90" width="46.88" height="1" fill="rgb(10,177,8)" />
<rect x="196.62" y="91" width="46.88" height="2" fill="rgb(5,91,4)" />
<rect x="196.62" y="93" width="46.88" height="1" fill="rgb(6,101,5)" />
<rect x="196.62" y="94" width="46.88" height="1" fill="rgb(4,83,4)" />
<rect x="196.62" y="95" width="46.88" height="1" fill="rgb(4,68,3)" />
<rect x="196.62" y="96" width="46.88" height="1" fill="rgb(4,66,3)" />
<rect x="196.62" y="97" width="46.88" height="1" fill="rgb(4,67,3)" />
<rect x="196.62" y="98" width="46.88" height="2" fill="rgb(3,66,3)" />
<rect x="196.62" y="100" width="46.88" height="1" fill="rgb(4,72,3)" />
<rect x="196.62" y="101" width="46.88" height="2" fill="rgb(3,60,3)" />
<rect x="196.62" y="103" width="46.88" height="1" fill="rgb(2,42,2)" />
<rect x="196.62" y="104" width="46.88" height="1" fill="rgb(2,40,2)" />
<rect x="196.62" y="105" width="46.88" height="1" fill="rgb(1,33,1)" />
<rect x="196.62" y="106" width="46.88" height="1" fill="rgb(4,80,4)" />
<rect x="196.62" y="107" width="46.88" height="1" fill="rgb(7,117,5)" />
<rect x="196.62" y="108" width="46.88" height="1" fill="rgb(7,129,6)" />
<rect x="196.62" y="109" width="46.88" height="1" fill="rgb(10,169,8)" />
<rect x="196.62" y="110" width="46.88" height="1" fill="rgb(7,117,5)" />
<rect x="196.62" y="111" width="46.88" height="1" fill="rgb(6,107,5)" />
<rect x="196.62" y="112" width="46.88" height="2" fill="rgb(5,85,4)" />
<rect x="196.62" y="114" width="46.88" height="2" fill="rgb(5,84,4)" />
<rect x="196.62" y="116" width="46.88" height="1" fill="rgb(3,57,2)" />
<rect x="196.62" y="117" width="46.88" height="1" fill="rgb(3,52,2)" />
<rect x="196.62" y="118" width="46.88" height="1" fill="rgb(4,75,3)" />
<rect x="196.62" y="119" width="46.88" height="1" fill="rgb(4,68,3)" />
<rect x="196.62" y="120" width="46.88" height="2" fill="rgb(5,85,4)" />
<rect x="196.62" y="122" width="46.88" height="2" fill="rgb(4,80,4)" />
<rect x="196.62" y="124" width="46.88" height="1" fill="rgb(6,114,5)" />
<rect x="196.62" y="125" width="46.88" height="2" fill="rgb(2,48,2)" />
<rect x="196.62" y="127" width="46.88" height="1" fill="rgb(3,61,3)" />
<rect x="196.62" y="128" width="46.88" height="1" fill="rgb(5,85,4)" />
<rect x="196.62" y="129" width="46.88" height="2" fill="rgb(5,99,4)" />
<rect x="196.62" y="131" width="46.88" height="1" fill="rgb(4,72,3)" />
<rect x="196.62" y="132" width="46.88" height="1" fill="rgb(4,66,3)" />
<rect x="196.62" y="133" width="46.88" height="1" fill="rgb(5,95,4)" />
<rect x="196.62" y="134" width="46.88" height="1" fill="rgb(6,100,5)" />
<rect x="196.62" y="135" width="46.88" height="1" fill="rgb(5,91,4)" />
<rect x="196.62" y="136" width="46.88" height="2" fill="rgb(2,40,2)" />
<rect x="196.62" y="138" width="46.88" height="1" fill="rgb(4,82,4)" />
<rect x="196.62" y="139" width="46.88" height="1" fill="rgb(7,125,6)" />
<rect x="196.62" y="140" width="46.88" height="1" fill="rgb(7,127,6)" />
<rect x="196.62" y="141" width="46.88" height="1" fill="rgb(4,71,3)" />
<rect x="196.62" y="142" width="46.88" height="1" fill="rgb(3,50,2)" />
<rect x="196.62" y="143" width="46.88" height="1" fill="rgb(2,42,2)" />
<rect x="196.62" y="144" width="46.88" height="1" fill="rgb(2,47,2)" />
<rect x="196.62" y="145" width="46.88" height="1" fill="rgb(5,94,4)" />
<rect x="196.62" y="146" width="46.88" height="2" fill="rgb(3,66,3)" />
<rect x="196.62" y="148" width="46.88" height="1" fill="rgb(5,92,4)" />
<rect x="196.62" y="149" width="46.88" height="1" fill="rgb(7,118,5)" />
<rect x="196.62" y="150" width="46.88" height="2" fill="rgb(8,147,7)" />
<rect x="196.62" y="152" width="46.88" height="1" fill="rgb(4,77,3)" />
<rect x="196.62" y="153" width="46.88" height="1" fill="rgb(3,66,3)" />
<rect x="196.62" y="154" width="46.88" height="1" fill="rgb(4,69,3)" />
<rect x="196.62" y="155" width="46.88" height="1" fill="rgb(4,78,3)" />
<rect x="196.62" y="156" width="46.88" height="1" fill="rgb(5,98,4)" />
<rect x="196.62" y="157" width="46.88" height="1" fill="rgb(6,113,5)" />
<rect x="196.62" y="158" width="46.88" height="1" fill="rgb(5,99,4)" />
<rect x="196.62" y="159" width="46.88" height="1" fill="rgb(4,71,3)" />
<rect x="196.62" y="160" width="46.88" height="2" fill="rgb(3,54,2)" />
<rect x="196.62" y="162" width="46.88" height="2" fill="rgb(2,45,2)" />
<rect x="196.62" y="164" width="46.88" height="2" fill="rgb(2,48,2)" />
<rect x="196.62" y="166" width="46.88" height="1" fill="rgb(5,90,4)" />
<rect x="196.62" y="167" width="46.88" height="1" fill="rgb(8,133,6)" />
<rect x="196.62" y="168" width="46.88" height="1" fill="rgb(6,105,5)" />
<rect x="196.62" y="169" width="46.88" height="1" fill="rgb(5,85,4)" />
<rect x="196.62" y="170" width="46.88" height="2" fill="rgb(4,69,3)" />
<rect x="196.62" y="172" width="46.88" height="1" fill="rgb(2,43,2)" />
<rect x="196.62" y="173" width="46.88" height="1" fill="rgb(3,63,3)" />
<rect x="196.62" y="174" width="46.88" height="1" fill="rgb(2,48,2)" />
<rect x="196.62" y="175" width="46.88" height="1" fill="rgb(3,51,2)" />
<rect x="196.62" y="176" width="46.88" height="2" fill="rgb(4,67,3)" />
<rect x="196.62" y="178" width="46.88" height="1" fill="rgb(3,55,2)" />
<rect x="196.62" y="179" width="46.88" height="1" fill="rgb(2,41,2)" />
<rect x="196.62" y="180" width="46.88" height="2" fill="rgb(2,45,2)" />
<rect x="196.62" y="182" width="46.88" height="1" fill="rgb(2,39,1)" />
<rect x="196.62" y="183" width="46.88" height="2" fill="rgb(6,100,5)" />
<rect x="196.62" y="185" width="46.88" height="1" fill="rgb(4,81,4)" />
<rect x="196.62" y="186" width="46.88" height="1" fill="rgb(4,71,3)" />
<rect x="196.62" y="187" width="46.88" height="2" fill="rgb(3,51,2)" />
<rect x="196.62" y="189" width="46.88" height="1" fill="rgb(4,73,3)" />
<rect x="196.62" y="190" width="46.88" height="1" fill="rgb(1,29,1)" />
<rect x="196.62" y="191" width="46.88" height="2" fill="rgb(1,18,0)" />
<rect x="196.62" y="193" width="46.88" height="1" fill="rgb(1,24,1)" />
<rect x="196.62" y="194" width="46.88" height="1" fill="rgb(2,33,1)" />
<rect x="196.62" y="195" width="46.88" height="2" fill="rgb(2,38,1)" />
<rect x="196.62" y="197" width="46.88" height="1" fill="rgb(6,105,5)" />
<rect x="196.62" y="198" width="46.88" height="1" fill="rgb(8,135,6)" />
<rect x="196.62" y="199" width="46.88" height="1" fill="rgb(7,131,6)" />
<rect x="196.62" y="200" width="46.88" height="1" fill="rgb(7,133,6)" />
<rect x="196.62" y="201" width="46.88" height="1" fill="rgb(9,159,7)" />
<rect x="196.62" y="202" width="46.88" height="2" fill="rgb(8,144,7)" />
<rect x="196.62" y="204" width="46.88" height="1" fill="rgb(5,90,4)" />
<rect x="196.62" y="205" width="46.88" height="2" fill="rgb(2,47,2)" />
<rect x="196.62" y="207" width="46.88" height="1" fill="rgb(3,51,2)" />
<rect x="196.62" y="208" width="46.88" height="1" fill="rgb(4,68,3)" />
<rect x="196.62" y="209" width="46.88" height="2" fill="rgb(4,66,3)" />
<rect x="196.62" y="211" width="46.88" height="1" fill="rgb(3,60,3)" />
<rect x="196.62" y="212" width="46.88" height="3" fill="rgb(2,33,1)" />
<rect x="196.62" y="215" width="46.88" height="1" fill="rgb(2,46,2)" />
<rect x="196.62" y="216" width="46.88" height="2" fill="rgb(3,53,2)" />
<rect x="196.62" y="218" width="46.88" height="1" fill="rgb(3,62,3)" />
<rect x="196.62" y="219" width="46.88" height="0.5" fill="rgb(3,64,3)" />
<rect x="290.5" y="31" width="187.7" height="188.5" fill="rgb(61,4,4)" />
<rect x="290.5" y="31" width="47.32" height="1" fill="rgb(48,3,3)" />
<rect x="290.5" y="32" width="47.32" height="1" fill="rgb(49,3,3)" />
<rect x="290.5" y="33" width="47.32" height="3" fill="rgb(93,6,6)" />
<rect x="290.5" y="36" width="47.32" height="2" fill="rgb(69,4,4)" />
<rect x="290.5" y="38" width="47.32" height="1" fill="rgb(73,5,5)" />
<rect x="290.5" y="39" width="47.32" height="2" fill="rgb(70,4,4)" />
<rect x="290.5" y="41" width="47.32" height="1" fill="rgb(86,6,6)" />
<rect x="290.5" y="42" width="47.32" height="1" fill="rgb(58,4,4)" />
<rect x="290.5" y="43" width="47.32" height="2" fill="rgb(41,2,2)" />
<rect x="290.5" y="45" width="47.32" height="1" fill="rgb(58,4,4)" />
<rect x="290.5" y="46" width="47.32" height="1" fill="rgb(69,4,4)" />
<rect x="290.5" y="47" width="47.32" height="2" fill="rgb(64,4,4)" />
<rect x="290.5" y="49" width="47.32" height="1" fill="rgb(76,5,5)" />
<rect x="290.5" y="50" width="47.32" height="2" fill="rgb(82,5,5)" />
<rect x="290.5" y="52" width="47.32" height="2" fill="rgb(88,6,6)" />
<rect x="290.5" y="54" width="47.32" height="1" fill="rgb(86,6,6)" />
<rect x="290.5" y="55" width="47.32" height="1" fill="rgb(98,6,6)" />
<rect x="290.5" y="56" width="47.32" height="2" fill="rgb(117,8,8)" />
<rect x="290.5" y="58" width="47.32" height="1" fill="rgb(71,5,5)" />
<rect x="290.5" y="59" width="47.32" height="2" fill="rgb(62,4,4)" />
<rect x="290.5" y="61" width="47.32" height="1" fill="rgb(68,4,4)" />
<rect x="290.5" y="62" width="47.32" height="2" fill="rgb(87,6,6)" />
<rect x="290.5" y="64" width="47.32" height="1" fill="rgb(76,5,5)" />
<rect x="290.5" y="65" width="47.32" height="1" fill="rgb(69,4,4)" />
<rect x="290.5" y="66" width="47.32" height="2" fill="rgb(46,3,3)" />
<rect x="290.5" y="68" width="47.32" height="3" fill="rgb(49,3,3)" />
<rect x="290.5" y="71" width="47.32" height="1" fill="rgb(52,3,3)" />
<rect x="290.5" y="72" width="47.32" height="1" fill="rgb(56,3,3)" />
<rect x="290.5" y="73" width="47.32" height="1" fill="rgb(92,6,6)" />
<rect x="290.5" y="74" width="47.32" height="2" fill="rgb(93,6,6)" />
<rect x="290.5" y="76" width="47.32" height="2" fill="rgb(75,5,5)" />
<rect x="290.5" y="78" width="47.32" height="1" fill="rgb(65,4,4)" />
<rect x="290.5" y="79" width="47.32" height="1" fill="rgb(58,4,4)" />
<rect x="290.5" y="80" width="47.32" height="1" fill="rgb(59,4,4)" />
<rect x="290.5" y="81" width="47.32" height="1" fill="rgb(51,3,3)" />
<rect x="290.5" y="82" width="47.32" height="2" fill="rgb(67,4,4)" />
<rect x="290.5" y="84" width="47.32" height="2" fill="rgb(50,3,3)" />
<rect x="290.5" y="86" width="47.32" height="1" fill="rgb(57,4,4)" />
<rect x="290.5" y="87" width="47.32" height="2" fill="rgb(67,4,4)" />
<rect x="290.5" y="89" width="47.32" height="3" fill="rgb(68,4,4)" />
<rect x="290.5" y="92" width="47.32" height="1" fill="rgb(53,3,3)" />
<rect x="290.5" y="93" width="47.32" height="1" fill="rgb(65,4,4)" />
<rect x="290.5" y="94" width="47.32" height="1" fill="rgb(68,4,4)" />
<rect x="290.5" y="95" width="47.32" height="1" fill="rgb(65,4,4)" />
<rect x="290.5" y="96" width="47.32" height="1" fill="rgb(71,4,4)" />
<rect x="290.5" y="97" width="47.32" height="2" fill="rgb(125,8,8)" />
<rect x="290.5" y="99" width="47.32" height="1" fill="rgb(106,7,7)" />
<rect x="290.5" y="100" width="47.32" height="1" fill="rgb(89,6,6)" />
<rect x="290.5" y="101" width="47.32" height="2" fill="rgb(79,5,5)" />
<rect x="290.5" y="103" width="47.32" height="1" fill="rgb(82,5,5)" />
<rect x="290.5" y="104" width="47.32" height="1" fill="rgb(114,8,8)" />
<rect x="290.5" y="105" width="47.32" height="2" fill="rgb(120,8,8)" />
<rect x="290.5" y="107" width="47.32" height="1" fill="rgb(113,7,7)" />
<rect x="290.5" y="108" width="47.32" height="2" fill="rgb(81,5,5)" />
<rect x="290.5" y="110" width="47.32" height="1" fill="rgb(84,5,5)" />
<rect x="290.5" y="111" width="47.32" height="1" fill="rgb(78,5,5)" />
<rect x="290.5" y="112" width="47.32" height="1" fill="rgb(75,5,5)" />
<rect x="290.5" y="113" width="47.32" height="1" fill="rgb(81,5,5)" />
<rect x="290.5" y="114" width="47.32" height="2" fill="rgb(90,6,6)" />
<rect x="290.5" y="116" width="47.32" height="3" fill="rgb(88,6,6)" />
<rect x="290.5" y="119" width="47.32" height="2" fill="rgb(62,4,4)" />
<rect x="290.5" y="121" width="47.32" height="2" fill="rgb(63,4,4)" />
<rect x="290.5" y="123" width="47.32" height="2" fill="rgb(58,4,4)" />
<rect x="290.5" y="125" width="47.32" height="3" fill="rgb(56,3,3)" />
<rect x="290.5" y="128" width="47.32" height="1" fill="rgb(77,5,5)" />
<rect x="290.5" y="129" width="47.32" height="2" fill="rgb(88,6,6)" />
<rect x="290.5" y="131" width="47.32" height="1" fill="rgb(72,5,5)" />
<rect x="290.5" y="132" width="47.32" height="1" fill="rgb(57,4,4)" />
<rect x="290.5" y="133" width="47.32" height="1" fill="rgb(50,3,3)" />
<rect x="290.5" y="134" width="47.32" height="1" fill="rgb(59,4,4)" />
<rect x="290.5" y="135" width="47.32" height="1" fill="rgb(60,4,4)" />
<rect x="290.5" y="136" width="47.32" height="3" fill="rgb(89,6,6)" />
<rect x="290.5" y="139" width="47.32" height="1" fill="rgb(66,4,4)" />
<rect x="290.5" y="140" width="47.32" height="2" fill="rgb(57,4,4)" />
<rect x="290.5" y="142" width="47.32" height="1" fill="rgb(74,5,5)" />
<rect x="290.5" y="143" width="47.32" height="1" fill="rgb(81,5,5)" />
<rect x="290.5" y="144" width="47.32" height="1" fill="rgb(84,5,5)" />
<rect x="290.5" y="145" width="47.32" height="1" fill="rgb(73,5,5)" />
<rect x="290.5" y="146" width="47.32" height="1" fill="rgb(63,4,4)" />
<rect x="290.5" y="147" width="47.32" height="1" fill="rgb(65,4,4)" />
<rect x="290.5" y="148" width="47.32" height="1" fill="rgb(79,5,5)" />
<rect x="290.5" y="149" width="47.32" height="2" fill="rgb(65,4,4)" />
<rect x="290.5" y="151" width="47.32" height="4" fill="rgb(50,3,3)" />
<rect x="290.5" y="155" width="47.32" height="2" fill="rgb(45,3,3)" />
<rect x="290.5" y="157" width="47.32" height="3" fill="rgb(39,2,2)" />
<rect x="290.5" y="160" width="47.32" height="1" fill="rgb(47,3,3)" />
<rect x="290.5" y="161" width="47.32" height="1" fill="rgb(64,4,4)" />
<rect x="290.5" y="162" width="47.32" height="3" fill="rgb(73,5,5)" />
<rect x="290.5" y="165" width="47.32" height="1" fill="rgb(60,4,4)" />
<rect x="290.5" y="166" width="47.32" height="1" fill="rgb(54,3,3)" />
<rect x="290.5" y="167" width="47.32" height="4" fill="rgb(52,3,3)" />
<rect x="290.5" y="171" width="47.32" height="1" fill="rgb(41,2,2)" />
<rect x="290.5" y="172" width="47.32" height="1" fill="rgb(48,3,3)" />
<rect x="290.5" y="173" width="47.32" height="1" fill="rgb(55,3,3)" />
<rect x="290.5" y="174" width="47.32" height="1" fill="rgb(78,5,5)" />
<rect x="290.5" y="175" width="47.32" height="3" fill="rgb(75,5,5)" />
<rect x="290.5" y="178" width="47.32" height="2" fill="rgb(63,4,4)" />
<rect x="290.5" y="180" width="47.32" height="1" fill="rgb(48,3,3)" />
<rect x="290.5" y="181" width="47.32" height="1" fill="rgb(68,4,4)" />
<rect x="290.5" y="182" width="47.32" height="1" fill="rgb(51,3,3)" />
<rect x="290.5" y="183" width="47.32" height="1" fill="rgb(62,4,4)" />
<rect x="290.5" y="184" width="47.32" height="3" fill="rgb(72,5,5)" />
<rect x="290.5" y="187" width="47.32" height="3" fill="rgb(96,6,6)" />
<rect x="290.5" y="190" width="47.32" height="1" fill="rgb(94,6,6)" />
<rect x="290.5" y="191" width="47.32" height="1" fill="rgb(78,5,5)" />
<rect x="290.5" y="192" width="47.32" height="2" fill="rgb(56,3,3)" />
<rect x="290.5" y="194" width="47.32" height="1" fill="rgb(47,3,3)" />
<rect x="290.5" y="195" width="47.32" height="1" fill="rgb(32,2,2)" />
<rect x="290.5" y="196" width="47.32" height="1" fill="rgb(35,2,2)" />
<rect x="290.5" y="197" width="47.32" height="1" fill="rgb(83,5,5)" />
<rect x="290.5" y="198" width="47.32" height="1" fill="rgb(95,6,6)" />
<rect x="290.5" y="199" width="47.32" height="2" fill="rgb(94,6,6)" />
<rect x="290.5" y="201" width="47.32" height="1" fill="rgb(92,6,6)" />
<rect x="290.5" y="202" width="47.32" height="3" fill="rgb(73,5,5)" />
<rect x="290.5" y="205" width="47.32" height="2" fill="rgb(68,4,4)" />
<rect x="290.5" y="207" width="47.32" height="2" fill="rgb(64,4,4)" />
<rect x="290.5" y="209" width="47.32" height="1" fill="rgb(67,4,4)" />
<rect x="290.5" y="210" width="47.32" height="1" fill="rgb(88,6,6)" />
<rect x="290.5" y="211" width="47.32" height="2" fill="rgb(126,8,8)" />
<rect x="290.5" y="213" width="47.32" height="1" fill="rgb(91,6,6)" />
<rect x="290.5" y="214" width="47.32" height="1" fill="rgb(74,5,5)" />
<rect x="290.5" y="215" width="47.32" height="3" fill="rgb(64,4,4)" />
<rect x="290.5" y="218" width="47.32" height="1" fill="rgb(55,3,3)" />
<rect x="290.5" y="219" width="47.32" height="0.5" fill="rgb(57,4,4)" />
<rect x="337.43" y="31" width="47.32" height="3" fill="rgb(77,5,5)" />
<rect x="337.43" y="34" width="47.32" height="1" fill="rgb(75,5,5)" />
<rect x="337.43" y="35" width="47.32" height="2" fill="rgb(92,6,6)" />
<rect x="337.43" y="37" width="47.32" height="2" fill="rgb(83,5,5)" />
<rect x="337.43" y="39" width="47.32" height="3" fill="rgb(98,6,6)" />
<rect x="337.43" y="42" width="47.32" height="2" fill="rgb(72,5,5)" />
<rect x="337.43" y="44" width="47.32" height="1" fill="rgb(74,5,5)" />
<rect x="337.43" y="45" width="47.32" height="1" fill="rgb(82,5,5)" />
<rect x="337.43" y="46" width="47.32" height="1" fill="rgb(114,8,8)" />
<rect x="337.43" y="47" width="47.32" height="2" fill="rgb(134,9,9)" />
<rect x="337.43" y="49" width="47.32" height="1" fill="rgb(115,8,8)" />
<rect x="337.43" y="50" width="47.32" height="2" fill="rgb(98,6,6)" />
<rect x="337.43" y="52" width="47.32" height="1" fill="rgb(79,5,5)" />
<rect x="337.43" y="53" width="47.32" height="1" fill="rgb(106,7,7)" />
<rect x="337.43" y="54" width="47.32" height="1" fill="rgb(119,8,8)" />
<rect x="337.43" y="55" width="47.32" height="1" fill="rgb(162,11,11)" />
<rect x="337.43" y="56" width="47.32" height="2" fill="rgb(140,9,9)" />
<rect x="337.43" y="58" width="47.32" height="1" fill="rgb(118,8,8)" />
<rect x="337.43" y="59" width="47.32" height="1" fill="rgb(103,7,7)" />
<rect x="337.43" y="60" width="47.32" height="2" fill="rgb(102,7,7)" />
<rect x="337.43" y="62" width="47.32" height="1" fill="rgb(100,7,7)" />
<rect x="337.43" y="63" width="47.32" height="2" fill="rgb(98,6,6)" />
<rect x="337.43" y="65" width="47.32" height="1" fill="rgb(102,7,7)" />
<rect x="337.43" y="66" width="47.32" height="2" fill="rgb(83,5,5)" />
<rect x="337.43" y="68" width="47.32" height="2" fill="rgb(63,4,4)" />
<rect x="337.43" y="70" width="47.32" height="1" fill="rgb(74,5,5)" />
<rect x="337.43" y="71" width="47.32" height="1" fill="rgb(86,6,6)" />
<rect x="337.43" y="72" width="47.32" height="1" fill="rgb(90,6,6)" />
<rect x="337.43" y="73" width="47.32" height="1" fill="rgb(105,7,7)" />
<rect x="337.43" y="74" width="47.32" height="1" fill="rgb(84,5,5)" />
<rect x="337.43" y="75" width="47.32" height="1" fill="rgb(92,6,6)" />
<rect x="337.43" y="76" width="47.32" height="2" fill="rgb(91,6,6)" />
<rect x="337.43" y="78" width="47.32" height="1" fill="rgb(95,6,6)" />
<rect x="337.43" y="79" width="47.32" height="2" fill="rgb(112,7,7)" />
<rect x="337.43" y="81" width="47.32" height="3" fill="rgb(96,6,6)" />
<rect x="337.43" y="84" width="47.32" height="1" fill="rgb(72,5,5)" />
<rect x="337.43" y="85" width="47.32" height="2" fill="rgb(83,5,5)" />
<rect x="337.43" y="87" width="47.32" height="1" fill="rgb(102,7,7)" />
<rect x="337.43" y="88" width="47.32" height="1" fill="rgb(111,7,7)" />
<rect x="337.43" y="89" width="47.32" height="1" fill="rgb(105,7,7)" />
<rect x="337.43" y="90" width="47.32" height="1" fill="rgb(151,10,10)" />
<rect x="337.43" y="91" width="47.32" height="1" fill="rgb(125,8,8)" />
<rect x="337.43" y="92" width="47.32" height="1" fill="rgb(113,7,7)" />
<rect x="337.43" y="93" width="47.32" height="2" fill="rgb(109,7,7)" />
<rect x="337.43" y="95" width="47.32" height="2" fill="rgb(117,8,8)" />
<rect x="337.43" y="97" width="47.32" height="1" fill="rgb(149,10,10)" />
<rect x="337.43" y="98" width="47.32" height="1" fill="rgb(134,9,9)" />
<rect x="337.43" y="99" width="47.32" height="2" fill="rgb(91,6,6)" />
<rect x="337.43" y="101" width="47.32" height="3" fill="rgb(80,5,5)" />
<rect x="337.43" y="104" width="47.32" height="1" fill="rgb(132,9,9)" />
<rect x="337.43" y="105" width="47.32" height="2" fill="rgb(136,9,9)" />
<rect x="337.43" y="107" width="47.32" height="1" fill="rgb(98,6,6)" />
<rect x="337.43" y="108" width="47.32" height="2" fill="rgb(110,7,7)" />
<rect x="337.43" y="110" width="47.32" height="1" fill="rgb(84,5,5)" />
<rect x="337.43" y="111" width="47.32" height="2" fill="rgb(110,7,7)" />
<rect x="337.43" y="113" width="47.32" height="1" fill="rgb(149,10,10)" />
<rect x="337.43" y="114" width="47.32" height="1" fill="rgb(106,7,7)" />
<rect x="337.43" y="115" width="47.32" height="1" fill="rgb(114,8,8)" />
<rect x="337.43" y="116" width="47.32" height="1" fill="rgb(111,7,7)" />
<rect x="337.43" y="117" width="47.32" height="2" fill="rgb(70,4,4)" />
<rect x="337.43" y="119" width="47.32" height="2" fill="rgb(95,6,6)" />
<rect x="337.43" y="121" width="47.32" height="3" fill="rgb(72,5,5)" />
<rect x="337.43" y="124" width="47.32" height="1" fill="rgb(76,5,5)" />
<rect x="337.43" y="125" width="47.32" height="2" fill="rgb(77,5,5)" />
<rect x="337.43" y="127" width="47.32" height="1" fill="rgb(89,6,6)" />
<rect x="337.43" y="128" width="47.32" height="1" fill="rgb(83,5,5)" />
<rect x="337.43" y="129" width="47.32" height="3" fill="rgb(66,4,4)" />
<rect x="337.43" y="132" width="47.32" height="3" fill="rgb(86,6,6)" />
<rect x="337.43" y="135" width="47.32" height="1" fill="rgb(87,6,6)" />
<rect x="337.43" y="136" width="47.32" height="1" fill="rgb(116,8,8)" />
<rect x="337.43" y="137" width="47.32" height="2" fill="rgb(107,7,7)" />
<rect x="337.43" y="139" width="47.32" height="1" fill="rgb(106,7,7)" />
<rect x="337.43" y="140" width="47.32" height="1" fill="rgb(88,6,6)" />
<rect x="337.43" y="141" width="47.32" height="2" fill="rgb(83,5,5)" />
<rect x="337.43" y="143" width="47.32" height="1" fill="rgb(103,7,7)" />
<rect x="337.43" y="144" width="47.32" height="1" fill="rgb(111,7,7)" />
<rect x="337.43" y="145" width="47.32" height="2" fill="rgb(109,7,7)" />
<rect x="337.43" y="147" width="47.32" height="3" fill="rgb(116,8,8)" />
<rect x="337.43" y="150" width="47.32" height="1" fill="rgb(96,6,6)" />
<rect x="337.43" y="151" width="47.32" height="1" fill="rgb(80,5,5)" />
<rect x="337.43" y="152" width="47.32" height="4" fill="rgb(85,5,5)" />
<rect x="337.43" y="156" width="47.32" height="1" fill="rgb(100,7,7)" />
<rect x="337.43" y="157" width="47.32" height="3" fill="rgb(102,7,7)" />
<rect x="337.43" y="160" width="47.32" height="1" fill="rgb(132,9,9)" />
<rect x="337.43" y="161" width="47.32" height="1" fill="rgb(144,10,10)" />
<rect x="337.43" y="162" width="47.32" height="1" fill="rgb(110,7,7)" />
<rect x="337.43" y="163" width="47.32" height="3" fill="rgb(136,9,9)" />
<rect x="337.43" y="166" width="47.32" height="1" fill="rgb(118,8,8)" />
<rect x="337.43" y="167" width="47.32" height="1" fill="rgb(208,14,14)" />
<rect x="337.43" y="168" width="47.32" height="1" fill="rgb(211,14,14)" />
<rect x="337.43" y="169" width="47.32" height="1" fill="rgb(146,10,10)" />
<rect x="337.43" y="170" width="47.32" height="3" fill="rgb(69,4,4)" />
<rect x="337.43" y="173" width="47.32" height="1" fill="rgb(67,4,4)" />
<rect x="337.43" y="174" width="47.32" height="1" fill="rgb(88,6,6)" />
<rect x="337.43" y="175" width="47.32" height="1" fill="rgb(94,6,6)" />
<rect x="337.43" y="176" width="47.32" height="2" fill="rgb(80,5,5)" />
<rect x="337.43" y="178" width="47.32" height="1" fill="rgb(107,7,7)" />
<rect x="337.43" y="179" width="47.32" height="1" fill="rgb(104,7,7)" />
<rect x="337.43" y="180" width="47.32" height="2" fill="rgb(81,5,5)" />
<rect x="337.43" y="182" width="47.32" height="2" fill="rgb(79,5,5)" />
<rect x="337.43" y="184" width="47.32" height="1" fill="rgb(76,5,5)" />
<rect x="337.43" y="185" width="47.32" height="1" fill="rgb(70,4,4)" />
<rect x="337.43" y="186" width="47.32" height="1" fill="rgb(64,4,4)" />
<rect x="337.43" y="187" width="47.32" height="1" fill="rgb(49,3,3)" />
<rect x="337.43" y="188" width="47.32" height="1" fill="rgb(59,4,4)" />
<rect x="337.43" y="189" width="47.32" height="2" fill="rgb(87,6,6)" />
<rect x="337.43" y="191" width="47.32" height="1" fill="rgb(79,5,5)" />
<rect x="337.43" y="192" width="47.32" height="2" fill="rgb(101,7,7)" />
<rect x="337.43" y="194" width="47.32" height="1" fill="rgb(88,6,6)" />
<rect x="337.43" y="195" width="47.32" height="1" fill="rgb(75,5,5)" />
<rect x="337.43" y="196" width="47.32" height="2" fill="rgb(64,4,4)" />
<rect x="337.43" y="198" width="47.32" height="1" fill="rgb(112,7,7)" />
<rect x="337.43" y="199" width="47.32" height="2" fill="rgb(117,8,8)" />
<rect x="337.43" y="201" width="47.32" height="2" fill="rgb(120,8,8)" />
<rect x="337.43" y="203" width="47.32" height="1" fill="rgb(111,7,7)" />
<rect x="337.43" y="204" width="47.32" height="1" fill="rgb(96,6,6)" />
<rect x="337.43" y="205" width="47.32" height="1" fill="rgb(89,6,6)" />
<rect x="337.43" y="206" width="47.32" height="3" fill="rgb(81,5,5)" />
<rect x="337.43" y="209" width="47.32" height="1" fill="rgb(112,7,7)" />
<rect x="337.43" y="210" width="47.32" height="1" fill="rgb(94,6,6)" />
<rect x="337.43" y="211" width="47.32" height="1" fill="rgb(136,9,9)" />
<rect x="337.43" y="212" width="47.32" height="1" fill="rgb(110,7,7)" />
<rect x="337.43" y="213" width="47.32" height="2" fill="rgb(83,5,5)" />
<rect x="337.43" y="215" width="47.32" height="1" fill="rgb(88,6,6)" />
<rect x="337.43" y="216" width="47.32" height="1" fill="rgb(77,5,5)" />
<rect x="337.43" y="217" width="47.32" height="1" fill="rgb(69,4,4)" />
<rect x="337.43" y="218" width="47.32" height="1.5" fill="rgb(58,4,4)" />
<rect x="384.35" y="31" width="47.32" height="1" fill="rgb(72,5,5)" />
<rect x="384.35" y="32" width="47.32" height="1" fill="rgb(80,5,5)" />
<rect x="384.35" y="33" width="47.32" height="1" fill="rgb(123,8,8)" />
<rect x="384.35" y="34" width="47.32" height="2" fill="rgb(114,8,8)" />
<rect x="384.35" y="36" width="47.32" height="1" fill="rgb(170,11,11)" />
<rect x="384.35" y="37" width="47.32" height="1" fill="rgb(123,8,8)" />
<rect x="384.35" y="38" width="47.32" height="1" fill="rgb(104,7,7)" />
<rect x="384.35" y="39" width="47.32" height="1" fill="rgb(97,6,6)" />
<rect x="384.35" y="40" width="47.32" height="1" fill="rgb(112,7,7)" />
<rect x="384.35" y="41" width="47.32" height="1" fill="rgb(172,12,12)" />
<rect x="384.35" y="42" width="47.32" height="1" fill="rgb(175,12,12)" />
<rect x="384.35" y="43" width="47.32" height="1" fill="rgb(158,11,11)" />
<rect x="384.35" y="44" width="47.32" height="1" fill="rgb(129,9,9)" />
<rect x="384.35" y="45" width="47.32" height="2" fill="rgb(154,10,10)" />
<rect x="384.35" y="47" width="47.32" height="2" fill="rgb(108,7,7)" />
<rect x="384.35" y="49" width="47.32" height="1" fill="rgb(98,6,6)" />
<rect x="384.35" y="50" width="47.32" height="3" fill="rgb(96,6,6)" />
<rect x="384.35" y="53" width="47.32" height="1" fill="rgb(137,9,9)" />
<rect x="384.35" y="54" width="47.32" height="1" fill="rgb(213,14,14)" />
<rect x="384.35" y="55" width="47.32" height="1" fill="rgb(156,10,10)" />
<rect x="384.35" y="56" width="47.32" height="1" fill="rgb(225,15,15)" />
<rect x="384.35" y="57" width="47.32" height="1" fill="rgb(162,11,11)" />
<rect x="384.35" y="58" width="47.32" height="1" fill="rgb(139,9,9)" />
<rect x="384.35" y="59" width="47.32" height="2" fill="rgb(180,12,12)" />
<rect x="384.35" y="61" width="47.32" height="1" fill="rgb(112,7,7)" />
<rect x="384.35" y="62" width="47.32" height="1" fill="rgb(93,6,6)" />
<rect x="384.35" y="63" width="47.32" height="1" fill="rgb(91,6,6)" />
<rect x="384.35" y="64" width="47.32" height="1" fill="rgb(116,8,8)" />
<rect x="384.35" y="65" width="47.32" height="2" fill="rgb(140,9,9)" />
<rect x="384.35" y="67" width="47.32" height="1" fill="rgb(108,7,7)" />
<rect x="384.35" y="68" width="47.32" height="1" fill="rgb(93,6,6)" />
<rect x="384.35" y="69" width="47.32" height="3" fill="rgb(102,7,7)" />
<rect x="384.35" y="72" width="47.32" height="2" fill="rgb(95,6,6)" />
<rect x="384.35" y="74" width="47.32" height="1" fill="rgb(99,6,6)" />
<rect x="384.35" y="75" width="47.32" height="3" fill="rgb(128,8,8)" />
<rect x="384.35" y="78" width="47.32" height="1" fill="rgb(147,10,10)" />
<rect x="384.35" y="79" width="47.32" height="2" fill="rgb(108,7,7)" />
<rect x="384.35" y="81" width="47.32" height="2" fill="rgb(134,9,9)" />
<rect x="384.35" y="83" width="47.32" height="1" fill="rgb(123,8,8)" />
<rect x="384.35" y="84" width="47.32" height="1" fill="rgb(173,12,12)" />
<rect x="384.35" y="85" width="47.32" height="1" fill="rgb(168,11,11)" />
<rect x="384.35" y="86" width="47.32" height="1" fill="rgb(112,7,7)" />
<rect x="384.35" y="87" width="47.32" height="2" fill="rgb(117,8,8)" />
<rect x="384.35" y="89" width="47.32" height="2" fill="rgb(102,7,7)" />
<rect x="384.35" y="91" width="47.32" height="1" fill="rgb(87,6,6)" />
<rect x="384.35" y="92" width="47.32" height="2" fill="rgb(80,5,5)" />
<rect x="384.35" y="94" width="47.32" height="1" fill="rgb(87,6,6)" />
<rect x="384.35" y="95" width="47.32" height="1" fill="rgb(80,5,5)" />
<rect x="384.35" y="96" width="47.32" height="1" fill="rgb(83,5,5)" />
<rect x="384.35" y="97" width="47.32" height="1" fill="rgb(95,6,6)" />
<rect x="384.35" y="98" width="47.32" height="2" fill="rgb(129,9,9)" />
<rect x="384.35" y="100" width="47.32" height="1" fill="rgb(142,9,9)" />
<rect x="384.35" y="101" width="47.32" height="2" fill="rgb(117,8,8)" />
<rect x="384.35" y="103" width="47.32" height="1" fill="rgb(147,10,10)" />
<rect x="384.35" y="104" width="47.32" height="1" fill="rgb(157,11,11)" />
<rect x="384.35" y="105" width="47.32" height="2" fill="rgb(197,13,13)" />
<rect x="384.35" y="107" width="47.32" height="1" fill="rgb(191,13,13)" />
<rect x="384.35" y="108" width="47.32" height="2" fill="rgb(140,9,9)" />
<rect x="384.35" y="110" width="47.32" height="1" fill="rgb(158,11,11)" />
<rect x="384.35" y="111" width="47.32" height="1" fill="rgb(138,9,9)" />
<rect x="384.35" y="112" width="47.32" height="3" fill="rgb(111,7,7)" />
<rect x="384.35" y="115" width="47.32" height="1" fill="rgb(123,8,8)" />
<rect x="384.35" y="116" width="47.32" height="1" fill="rgb(122,8,8)" />
<rect x="384.35" y="117" width="47.32" height="2" fill="rgb(93,6,6)" />
<rect x="384.35" y="119" width="47.32" height="1" fill="rgb(123,8,8)" />
<rect x="384.35" y="120" width="47.32" height="1" fill="rgb(140,9,9)" />
<rect x="384.35" y="121" width="47.32" height="1" fill="rgb(167,11,11)" />
<rect x="384.35" y="122" width="47.32" height="2" fill="rgb(117,8,8)" />
<rect x="384.35" y="124" width="47.32" height="1" fill="rgb(138,9,9)" />
<rect x="384.35" y="125" width="47.32" height="2" fill="rgb(133,9,9)" />
<rect x="384.35" y="127" width="47.32" height="2" fill="rgb(156,10,10)" />
<rect x="384.35" y="129" width="47.32" height="1" fill="rgb(102,7,7)" />
<rect x="384.35" y="130" width="47.32" height="1" fill="rgb(94,6,6)" />
<rect x="384.35" y="131" width="47.32" height="2" fill="rgb(121,8,8)" />
<rect x="384.35" y="133" width="47.32" height="2" fill="rgb(110,7,7)" />
<rect x="384.35" y="135" width="47.32" height="1" fill="rgb(117,8,8)" />
<rect x="384.35" y="136" width="47.32" height="1" fill="rgb(129,9,9)" />
<rect x="384.35" y="137" width="47.32" height="3" fill="rgb(113,7,7)" />
<rect x="384.35" y="140" width="47.32" height="1" fill="rgb(104,7,7)" />
<rect x="384.35" y="141" width="47.32" height="1" fill="rgb(87,6,6)" />
<rect x="384.35" y="142" width="47.32" height="3" fill="rgb(90,6,6)" />
<rect x="384.35" y="145" width="47.32" height="1" fill="rgb(147,10,10)" />
<rect x="384.35" y="146" width="47.32" height="1" fill="rgb(158,11,11)" />
<rect x="384.35" y="147" width="47.32" height="1" fill="rgb(145,10,10)" />
<rect x="384.35" y="148" width="47.32" height="1" fill="rgb(171,11,11)" />
<rect x="384.35" y="149" width="47.32" height="2" fill="rgb(151,10,10)" />
<rect x="384.35" y="151" width="47.32" height="1" fill="rgb(153,10,10)" />
<rect x="384.35" y="152" width="47.32" height="1" fill="rgb(183,12,12)" />
<rect x="384.35" y="153" width="47.32" height="2" fill="rgb(147,10,10)" />
<rect x="384.35" y="155" width="47.32" height="1" fill="rgb(201,14,14)" />
<rect x="384.35" y="156" width="47.32" height="1" fill="rgb(123,8,8)" />
<rect x="384.35" y="157" width="47.32" height="1" fill="rgb(117,8,8)" />
<rect x="384.35" y="158" width="47.32" height="2" fill="rgb(111,7,7)" />
<rect x="384.35" y="160" width="47.32" height="1" fill="rgb(102,7,7)" />
<rect x="384.35" y="161" width="47.32" height="1" fill="rgb(120,8,8)" />
<rect x="384.35" y="162" width="47.32" height="3" fill="rgb(211,14,14)" />
<rect x="384.35" y="165" width="47.32" height="1" fill="rgb(122,8,8)" />
<rect x="384.35" y="166" width="47.32" height="1" fill="rgb(105,7,7)" />
<rect x="384.35" y="167" width="47.32" height="1" fill="rgb(97,6,6)" />
<rect x="384.35" y="168" width="47.32" height="2" fill="rgb(203,14,14)" />
<rect x="384.35" y="170" width="47.32" height="1" fill="rgb(240,16,16)" />
<rect x="384.35" y="171" width="47.32" height="1" fill="rgb(174,12,12)" />
<rect x="384.35" y="172" width="47.32" height="1" fill="rgb(108,7,7)" />
<rect x="384.35" y="173" width="47.32" height="2" fill="rgb(126,8,8)" />
<rect x="384.35" y="175" width="47.32" height="3" fill="rgb(108,7,7)" />
<rect x="384.35" y="178" width="47.32" height="1" fill="rgb(187,13,13)" />
<rect x="384.35" y="179" width="47.32" height="1" fill="rgb(205,14,14)" />
<rect x="384.35" y="180" width="47.32" height="1" fill="rgb(182,12,12)" />
<rect x="384.35" y="181" width="47.32" height="1" fill="rgb(110,7,7)" />
<rect x="384.35" y="182" width="47.32" height="1" fill="rgb(98,6,6)" />
<rect x="384.35" y="183" width="47.32" height="1" fill="rgb(121,8,8)" />
<rect x="384.35" y="184" width="47.32" height="1" fill="rgb(152,10,10)" />
<rect x="384.35" y="185" width="47.32" height="1" fill="rgb(170,11,11)" />
<rect x="384.35" y="186" width="47.32" height="1" fill="rgb(120,8,8)" />
<rect x="384.35" y="187" width="47.32" height="1" fill="rgb(106,7,7)" />
<rect x="384.35" y="188" width="47.32" height="2" fill="rgb(85,6,6)" />
<rect x="384.35" y="190" width="47.32" height="2" fill="rgb(111,7,7)" />
<rect x="384.35" y="192" width="47.32" height="1" fill="rgb(114,7,7)" />
<rect x="384.35" y="193" width="47.32" height="2" fill="rgb(145,10,10)" />
<rect x="384.35" y="195" width="47.32" height="1" fill="rgb(119,8,8)" />
<rect x="384.35" y="196" width="47.32" height="1" fill="rgb(117,8,8)" />
<rect x="384.35" y="197" width="47.32" height="2" fill="rgb(108,7,7)" />
<rect x="384.35" y="199" width="47.32" height="1" fill="rgb(102,7,7)" />
<rect x="384.35" y="200" width="47.32" height="1" fill="rgb(89,6,6)" />
<rect x="384.35" y="201" width="47.32" height="1" fill="rgb(92,6,6)" />
<rect x="384.35" y="202" width="47.32" height="2" fill="rgb(107,7,7)" />
<rect x="384.35" y="204" width="47.32" height="1" fill="rgb(139,9,9)" />
<rect x="384.35" y="205" width="47.32" height="1" fill="rgb(116,8,8)" />
<rect x="384.35" y="206" width="47.32" height="1" fill="rgb(103,7,7)" />
<rect x="384.35" y="207" width="47.32" height="3" fill="rgb(92,6,6)" />
<rect x="384.35" y="210" width="47.32" height="1" fill="rgb(89,6,6)" />
<rect x="384.35" y="211" width="47.32" height="3" fill="rgb(137,9,9)" />
<rect x="384.35" y="214" width="47.32" height="1" fill="rgb(122,8,8)" />
<rect x="384.35" y="215" width="47.32" height="2" fill="rgb(86,6,6)" />
<rect x="384.35" y="217" width="47.32" height="2" fill="rgb(75,5,5)" />
<rect x="384.35" y="219" width="47.32" height="0.5" fill="rgb(72,5,5)" />
<rect x="431.27" y="31" width="46.92" height="2" fill="rgb(73,5,5)" />
<rect x="431.27" y="33" width="46.92" height="1" fill="rgb(83,5,5)" />
<rect x="431.27" y="34" width="46.92" height="1" fill="rgb(86,6,6)" />
<rect x="431.27" y="35" width="46.92" height="2" fill="rgb(99,6,6)" />
<rect x="431.27" y="37" width="46.92" height="2" fill="rgb(76,5,5)" />
<rect x="431.27" y="39" width="46.92" height="2" fill="rgb(95,6,6)" />
<rect x="431.27" y="41" width="46.92" height="1" fill="rgb(196,13,13)" />
<rect x="431.27" y="42" width="46.92" height="1" fill="rgb(240,16,16)" />
<rect x="431.27" y="43" width="46.92" height="1" fill="rgb(153,10,10)" />
<rect x="431.27" y="44" width="46.92" height="1" fill="rgb(89,6,6)" />
<rect x="431.27" y="45" width="46.92" height="1" fill="rgb(128,9,9)" />
<rect x="431.27" y="46" width="46.92" height="1" fill="rgb(145,10,10)" />
<rect x="431.27" y="47" width="46.92" height="2" fill="rgb(153,10,10)" />
<rect x="431.27" y="49" width="46.92" height="1" fill="rgb(123,8,8)" />
<rect x="431.27" y="50" width="46.92" height="2" fill="rgb(91,6,6)" />
<rect x="431.27" y="52" width="46.92" height="1" fill="rgb(99,6,6)" />
<rect x="431.27" y="53" width="46.92" height="1" fill="rgb(149,10,10)" />
<rect x="431.27" y="54" width="46.92" height="2" fill="rgb(161,11,11)" />
<rect x="431.27" y="56" width="46.92" height="1" fill="rgb(192,13,13)" />
<rect x="431.27" y="57" width="46.92" height="3" fill="rgb(235,16,16)" />
<rect x="431.27" y="60" width="46.92" height="1" fill="rgb(207,14,14)" />
<rect x="431.27" y="61" width="46.92" height="1" fill="rgb(240,16,16)" />
<rect x="431.27" y="62" width="46.92" height="1" fill="rgb(85,5,5)" />
<rect x="431.27" y="63" width="46.92" height="2" fill="rgb(68,4,4)" />
<rect x="431.27" y="65" width="46.92" height="1" fill="rgb(78,5,5)" />
<rect x="431.27" y="66" width="46.92" height="2" fill="rgb(98,6,6)" />
<rect x="431.27" y="68" width="46.92" height="2" fill="rgb(86,6,6)" />
<rect x="431.27" y="70" width="46.92" height="4" fill="rgb(88,6,6)" />
<rect x="431.27" y="74" width="46.92" height="1" fill="rgb(96,6,6)" />
<rect x="431.27" y="75" width="46.92" height="2" fill="rgb(177,12,12)" />
<rect x="431.27" y="77" width="46.92" height="2" fill="rgb(192,13,13)" />
<rect x="431.27" y="79" width="46.92" height="1" fill="rgb(150,10,10)" />
<rect x="431.27" y="80" width="46.92" height="1" fill="rgb(117,8,8)" />
<rect x="431.27" y="81" width="46.92" height="2" fill="rgb(125,8,8)" />
<rect x="431.27" y="83" width="46.92" height="1" fill="rgb(96,6,6)" />
<rect x="431.27" y="84" width="46.92" height="1" fill="rgb(67,4,4)" />
<rect x="431.27" y="85" width="46.92" height="2" fill="rgb(76,5,5)" />
<rect x="431.27" y="87" width="46.92" height="1" fill="rgb(92,6,6)" />
<rect x="431.27" y="88" width="46.92" height="3" fill="rgb(166,11,11)" />
<rect x="431.27" y="91" width="46.92" height="1" fill="rgb(97,6,6)" />
<rect x="431.27" y="92" width="46.92" height="3" fill="rgb(107,7,7)" />
<rect x="431.27" y="95" width="46.92" height="3" fill="rgb(121,8,8)" />
<rect x="431.27" y="98" width="46.92" height="2" fill="rgb(127,8,8)" />
<rect x="431.27" y="100" width="46.92" height="1" fill="rgb(193,13,13)" />
<rect x="431.27" y="101" width="46.92" height="1" fill="rgb(240,16,16)" />
<rect x="431.27" y="102" width="46.92" height="2" fill="rgb(183,12,12)" />
<rect x="431.27" y="104" width="46.92" height="2" fill="rgb(211,14,14)" />
<rect x="431.27" y="106" width="46.92" height="2" fill="rgb(240,16,16)" />
<rect x="431.27" y="108" width="46.92" height="1" fill="rgb(230,16,16)" />
<rect x="431.27" y="109" width="46.92" height="1" fill="rgb(204,14,14)" />
<rect x="431.27" y="110" width="46.92" height="2" fill="rgb(174,12,12)" />
<rect x="431.27" y="112" width="46.92" height="1" fill="rgb(155,10,10)" />
<rect x="431.27" y="113" width="46.92" height="1" fill="rgb(173,12,12)" />
<rect x="431.27" y="114" width="46.92" height="2" fill="rgb(170,11,11)" />
<rect x="431.27" y="116" width="46.92" height="1" fill="rgb(163,11,11)" />
<rect x="431.27" y="117" width="46.92" height="1" fill="rgb(100,7,7)" />
<rect x="431.27" y="118" width="46.92" height="1" fill="rgb(136,9,9)" />
<rect x="431.27" y="119" width="46.92" height="1" fill="rgb(96,6,6)" />
<rect x="431.27" y="120" width="46.92" height="1" fill="rgb(102,7,7)" />
<rect x="431.27" y="121" width="46.92" height="1" fill="rgb(168,11,11)" />
<rect x="431.27" y="122" width="46.92" height="2" fill="rgb(147,10,10)" />
<rect x="431.27" y="124" width="46.92" height="1" fill="rgb(114,7,7)" />
<rect x="431.27" y="125" width="46.92" height="2" fill="rgb(83,5,5)" />
<rect x="431.27" y="127" width="46.92" height="2" fill="rgb(110,7,7)" />
<rect x="431.27" y="129" width="46.92" height="1" fill="rgb(112,7,7)" />
<rect x="431.27" y="130" width="46.92" height="1" fill="rgb(98,6,6)" />
<rect x="431.27" y="131" width="46.92" height="1" fill="rgb(89,6,6)" />
<rect x="431.27" y="132" width="46.92" height="1" fill="rgb(65,4,4)" />
<rect x="431.27" y="133" width="46.92" height="2" fill="rgb(69,4,4)" />
<rect x="431.27" y="135" width="46.92" height="1" fill="rgb(71,5,5)" />
<rect x="431.27" y="136" width="46.92" height="2" fill="rgb(87,6,6)" />
<rect x="431.27" y="138" width="46.92" height="2" fill="rgb(89,6,6)" />
<rect x="431.27" y="140" width="46.92" height="1" fill="rgb(92,6,6)" />
<rect x="431.27" y="141" width="46.92" height="1" fill="rgb(84,5,5)" />
<rect x="431.27" y="142" width="46.92" height="1" fill="rgb(66,4,4)" />
<rect x="431.27" y="143" width="46.92" height="2" fill="rgb(59,4,4)" />
<rect x="431.27" y="145" width="46.92" height="1" fill="rgb(99,6,6)" />
<rect x="431.27" y="146" width="46.92" height="1" fill="rgb(104,7,7)" />
<rect x="431.27" y="147" width="46.92" height="2" fill="rgb(108,7,7)" />
<rect x="431.27" y="149" width="46.92" height="1" fill="rgb(119,8,8)" />
<rect x="431.27" y="150" width="46.92" height="1" fill="rgb(134,9,9)" />
<rect x="431.27" y="151" width="46.92" height="3" fill="rgb(129,9,9)" />
<rect x="431.27" y="154" width="46.92" height="2" fill="rgb(144,10,10)" />
<rect x="431.27" y="156" width="46.92" height="1" fill="rgb(104,7,7)" />
<rect x="431.27" y="157" width="46.92" height="1" fill="rgb(101,7,7)" />
<rect x="431.27" y="158" width="46.92" height="1" fill="rgb(89,6,6)" />
<rect x="431.27" y="159" width="46.92" height="1" fill="rgb(109,7,7)" />
<rect x="431.27" y="160" width="46.92" height="1" fill="rgb(111,7,7)" />
<rect x="431.27" y="161" width="46.92" height="1" fill="rgb(118,8,8)" />
<rect x="431.27" y="162" width="46.92" height="1" fill="rgb(160,11,11)" />
<rect x="431.27" y="163" width="46.92" height="2" fill="rgb(226,15,15)" />
<rect x="431.27" y="165" width="46.92" height="1" fill="rgb(171,11,11)" />
<rect x="431.27" y="166" width="46.92" height="2" fill="rgb(115,8,8)" />
<rect x="431.27" y="168" width="46.92" height="1" fill="rgb(121,8,8)" />
<rect x="431.27" y="169" width="46.92" height="2" fill="rgb(176,12,12)" />
<rect x="431.27" y="171" width="46.92" height="1" fill="rgb(146,10,10)" />
<rect x="431.27" y="172" width="46.92" height="1" fill="rgb(109,7,7)" />
<rect x="431.27" y="173" width="46.92" height="1" fill="rgb(75,5,5)" />
<rect x="431.27" y="174" width="46.92" height="2" fill="rgb(79,5,5)" />
<rect x="431.27" y="176" width="46.92" height="2" fill="rgb(91,6,6)" />
<rect x="431.27" y="178" width="46.92" height="1" fill="rgb(109,7,7)" />
<rect x="431.27" y="179" width="46.92" height="1" fill="rgb(105,7,7)" />
<rect x="431.27" y="180" width="46.92" height="2" fill="rgb(82,5,5)" />
<rect x="431.27" y="182" width="46.92" height="3" fill="rgb(94,6,6)" />
<rect x="431.27" y="185" width="46.92" height="1" fill="rgb(71,4,4)" />
<rect x="431.27" y="186" width="46.92" height="2" fill="rgb(66,4,4)" />
<rect x="431.27" y="188" width="46.92" height="2" fill="rgb(68,4,4)" />
<rect x="431.27" y="190" width="46.92" height="1" fill="rgb(89,6,6)" />
<rect x="431.27" y="191" width="46.92" height="4" fill="rgb(219,15,15)" />
<rect x="431.27" y="195" width="46.92" height="1" fill="rgb(114,8,8)" />
<rect x="431.27" y="196" width="46.92" height="1" fill="rgb(97,6,6)" />
<rect x="431.27" y="197" width="46.92" height="2" fill="rgb(96,6,6)" />
<rect x="431.27" y="199" width="46.92" height="1" fill="rgb(129,9,9)" />
<rect x="431.27" y="200" width="46.92" height="1" fill="rgb(107,7,7)" />
<rect x="431.27" y="201" width="46.92" height="2" fill="rgb(81,5,5)" />
<rect x="431.27" y="203" width="46.92" height="2" fill="rgb(102,7,7)" />
<rect x="431.27" y="205" width="46.92" height="1" fill="rgb(118,8,8)" />
<rect x="431.27" y="206" width="46.92" height="1" fill="rgb(139,9,9)" />
<rect x="431.27" y="207" width="46.92" height="2" fill="rgb(118,8,8)" />
<rect x="431.27" y="209" width="46.92" height="1" fill="rgb(96,6,6)" />
<rect x="431.27" y="210" width="46.92" height="3" fill="rgb(110,7,7)" />
<rect x="431.27" y="213" width="46.92" height="1" fill="rgb(90,6,6)" />
<rect x="431.27" y="214" width="46.92" height="1" fill="rgb(113,7,7)" />
<rect x="431.27" y="215" width="46.92" height="1" fill="rgb(102,7,7)" />
<rect x="431.27" y="216" width="46.92" height="2" fill="rgb(89,6,6)" />
<rect x="431.27" y="218" width="46.92" height="1.5" fill="rgb(76,5,5)" />
<line x1="246" y1="45.2" x2="251.3" y2="45.2" stroke="#000" stroke-width="1.25" />
<line x1="246" y1="46.8" x2="251.3" y2="46.8" stroke="#000" stroke-width="1.25" />
<line x1="246" y1="50.1" x2="251.3" y2="50.1" stroke="#000" stroke-width="1.25" />
<line x1="246" y1="67.6" x2="251.3" y2="67.6" stroke="#000" stroke-width="1.25" />
<line x1="246" y1="73" x2="251.3" y2="73" stroke="#000" stroke-width="1.25" />
<line x1="246" y1="84.4" x2="251.3" y2="84.4" stroke="#000" stroke-width="1.25" />
<line x1="246" y1="94" x2="251.3" y2="94" stroke="#000" stroke-width="1.25" />
<line x1="246" y1="96.7" x2="251.3" y2="96.7" stroke="#000" stroke-width="1.25" />
<line x1="246" y1="98.8" x2="251.3" y2="98.8" stroke="#000" stroke-width="1.25" />
<line x1="246" y1="117.3" x2="251.3" y2="117.3" stroke="#000" stroke-width="1.25" />
<line x1="246" y1="120" x2="251.3" y2="120" stroke="#000" stroke-width="1.25" />
<line x1="246" y1="125.6" x2="251.3" y2="125.6" stroke="#000" stroke-width="1.25" />
<line x1="246" y1="154.8" x2="251.3" y2="154.8" stroke="#000" stroke-width="1.25" />
<line x1="246" y1="157.6" x2="251.3" y2="157.6" stroke="#000" stroke-width="1.25" />
<line x1="246" y1="204" x2="251.3" y2="204" stroke="#000" stroke-width="1.25" />
<line x1="246" y1="211.3" x2="251.3" y2="211.3" stroke="#000" stroke-width="1.25" />
<text x="252.8" y="43.4" font-size="6.4" text-anchor="start" font-weight="normal" font-style="italic" fill="#000" >CCDC86</text>
<text x="252.8" y="48.699999999999996" font-size="6.4" text-anchor="start" font-weight="normal" font-style="italic" fill="#000" >CCR7</text>
<text x="252.8" y="54.599999999999994" font-size="6.4" text-anchor="start" font-weight="normal" font-style="italic" fill="#000" >CELF1</text>
<text x="252.8" y="70.5" font-size="6.4" text-anchor="start" font-weight="normal" font-style="italic" fill="#000" >E2F6</text>
<text x="252.8" y="76.0" font-size="6.4" text-anchor="start" font-weight="normal" font-style="italic" fill="#000" >EIF2S2</text>
<text x="252.8" y="86.7" font-size="6.4" text-anchor="start" font-weight="normal" font-style="italic" fill="#000" >GNL3</text>
<text x="252.8" y="92.89999999999999" font-size="6.4" text-anchor="start" font-weight="normal" font-style="italic" fill="#000" >IL2RA</text>
<text x="252.8" y="99.0" font-size="6.4" text-anchor="start" font-weight="normal" font-style="italic" fill="#000" >IRF4</text>
<text x="252.8" y="104.8" font-size="6.4" text-anchor="start" font-weight="normal" font-style="italic" fill="#000" >ITK</text>
<text x="252.8" y="117.0" font-size="6.4" text-anchor="start" font-weight="normal" font-style="italic" fill="#000" >MINA</text>
<text x="252.8" y="122.3" font-size="6.4" text-anchor="start" font-weight="normal" font-style="italic" fill="#000" >MN1</text>
<text x="252.8" y="128.1" font-size="6.4" text-anchor="start" font-weight="normal" font-style="italic" fill="#000" >NAA25</text>
<text x="252.8" y="155.4" font-size="6.4" text-anchor="start" font-weight="normal" font-style="italic" fill="#000" >RIOK1</text>
<text x="252.8" y="161.3" font-size="6.4" text-anchor="start" font-weight="normal" font-style="italic" fill="#000" >S100A9</text>
<text x="252.8" y="206.3" font-size="6.4" text-anchor="start" font-weight="normal" font-style="italic" fill="#000" >TYRO3</text>
<text x="252.8" y="213.8" font-size="6.4" text-anchor="start" font-weight="normal" font-style="italic" fill="#000" >YAF2</text>
<line x1="480" y1="45.9" x2="486" y2="45.9" stroke="#000" stroke-width="1.25" />
<line x1="480" y1="47.5" x2="486" y2="47.5" stroke="#000" stroke-width="1.25" />
<line x1="480" y1="58.3" x2="486" y2="58.3" stroke="#000" stroke-width="1.25" />
<line x1="480" y1="91.3" x2="486" y2="91.3" stroke="#000" stroke-width="1.25" />
<line x1="480" y1="113" x2="486" y2="113" stroke="#000" stroke-width="1.25" />
<line x1="480" y1="118.1" x2="486" y2="118.1" stroke="#000" stroke-width="1.25" />
<line x1="480" y1="133.7" x2="486" y2="133.7" stroke="#000" stroke-width="1.25" />
<line x1="480" y1="147.5" x2="486" y2="147.5" stroke="#000" stroke-width="1.25" />
<line x1="480" y1="150" x2="486" y2="150" stroke="#000" stroke-width="1.25" />
<line x1="480" y1="156" x2="486" y2="156" stroke="#000" stroke-width="1.25" />
<line x1="480" y1="162.3" x2="486" y2="162.3" stroke="#000" stroke-width="1.25" />
<line x1="480" y1="173.7" x2="486" y2="173.7" stroke="#000" stroke-width="1.25" />
<line x1="480" y1="185.4" x2="486" y2="185.4" stroke="#000" stroke-width="1.25" />
<line x1="480" y1="205.2" x2="486" y2="205.2" stroke="#000" stroke-width="1.25" />
<line x1="480" y1="207" x2="486" y2="207" stroke="#000" stroke-width="1.25" />
<line x1="480" y1="218.4" x2="486" y2="218.4" stroke="#000" stroke-width="1.25" />
<text x="487.5" y="45.9" font-size="6.4" text-anchor="start" font-weight="normal" font-style="italic" fill="#000" >ATM</text>
<text x="487.5" y="51.199999999999996" font-size="6.4" text-anchor="start" font-weight="normal" font-style="italic" fill="#000" >BATF</text>
<text x="487.5" y="57.8" font-size="6.4" text-anchor="start" font-weight="normal" font-style="italic" fill="#000" >CDKN1A</text>
<text x="487.5" y="63.599999999999994" font-size="6.4" text-anchor="start" font-weight="normal" font-style="italic" fill="#000" >CDKN2D</text>
<text x="487.5" y="93.6" font-size="6.4" text-anchor="start" font-weight="normal" font-style="italic" fill="#000" >GADD45A</text>
<text x="487.5" y="115.1" font-size="6.4" text-anchor="start" font-weight="normal" font-style="italic" fill="#000" >IFI44</text>
<text x="487.5" y="121.5" font-size="6.4" text-anchor="start" font-weight="normal" font-style="italic" fill="#000" >IL7R</text>
<text x="487.5" y="136.0" font-size="6.4" text-anchor="start" font-weight="normal" font-style="italic" fill="#000" >KLF13</text>
<text x="487.5" y="147.10000000000002" font-size="6.4" text-anchor="start" font-weight="normal" font-style="italic" fill="#000" >MOAP1</text>
<text x="487.5" y="153.0" font-size="6.4" text-anchor="start" font-weight="normal" font-style="italic" fill="#000" >MXD1</text>
<text x="487.5" y="158.8" font-size="6.4" text-anchor="start" font-weight="normal" font-style="italic" fill="#000" >NUB1</text>
<text x="487.5" y="164.8" font-size="6.4" text-anchor="start" font-weight="normal" font-style="italic" fill="#000" >PHLDA1</text>
<text x="487.5" y="176.0" font-size="6.4" text-anchor="start" font-weight="normal" font-style="italic" fill="#000" >RAC2</text>
<text x="487.5" y="187.70000000000002" font-size="6.4" text-anchor="start" font-weight="normal" font-style="italic" fill="#000" >SATB1</text>
<text x="487.5" y="204.60000000000002" font-size="6.4" text-anchor="start" font-weight="normal" font-style="italic" fill="#000" >TNFRSF1A</text>
<text x="487.5" y="210.10000000000002" font-size="6.4" text-anchor="start" font-weight="normal" font-style="italic" fill="#000" >TNFSF10</text>
<text x="487.5" y="220.70000000000002" font-size="6.4" text-anchor="start" font-weight="normal" font-style="italic" fill="#000" >ZBTB16</text>
<defs><linearGradient id="cb" x1="0" y1="0" x2="0" y2="1"><stop offset="0" stop-color="#ff0000"/><stop offset="0.5" stop-color="#000"/><stop offset="1" stop-color="#00ff00"/></linearGradient></defs>
<rect x="21" y="95" width="11" height="70" fill="url(#cb)" />
<text x="26.3" y="69.5" font-size="7.3" text-anchor="middle" font-weight="normal" font-style="normal" fill="#111" >Relative</text>
<text x="26.3" y="77" font-size="7.3" text-anchor="middle" font-weight="normal" font-style="normal" fill="#111" >gene</text>
<text x="26.3" y="84.5" font-size="7.3" text-anchor="middle" font-weight="normal" font-style="normal" fill="#111" >expression</text>
<text x="17" y="98" font-size="6.5" text-anchor="end" font-weight="normal" font-style="normal" fill="#111" >3x</text>
<text x="17" y="132" font-size="6.5" text-anchor="end" font-weight="normal" font-style="normal" fill="#111" >1x</text>
<text x="17" y="166" font-size="6.5" text-anchor="end" font-weight="normal" font-style="normal" fill="#111" >0.33x</text>
<text x="0" y="244" font-size="11" text-anchor="start" font-weight="bold" font-style="normal" fill="#111" >B</text>
<text x="114" y="240.5" font-size="7.6" text-anchor="middle" font-weight="normal" font-style="normal" fill="#111" >MYC target gene signature</text>
<text x="114" y="248.6" font-size="7.3" text-anchor="middle" font-weight="normal" font-style="normal" fill="#111" >(MYC_overexpression_1.5x_up  signature)</text>
<rect x="66.2" y="253.6" width="103.49999999999999" height="157" fill="#fff" stroke="#666" stroke-width="0.9"/>
<line x1="66.2" y1="337" x2="169.7" y2="337" stroke="#444" stroke-width="0.8" />
<line x1="66.2" y1="367.6" x2="169.7" y2="367.6" stroke="#444" stroke-width="0.8" />
<text x="62" y="338.1" font-size="5.8" text-anchor="end" font-weight="normal" font-style="normal" fill="#111" >0</text>
<text x="62" y="327.37" font-size="5.8" text-anchor="end" font-weight="normal" font-style="normal" fill="#111" >0.1</text>
<line x1="66.2" y1="325.27" x2="67.5" y2="325.27" stroke="#333" stroke-width="0.6" />
<text x="62" y="316.64000000000004" font-size="5.8" text-anchor="end" font-weight="normal" font-style="normal" fill="#111" >0.2</text>
<line x1="66.2" y1="314.54" x2="67.5" y2="314.54" stroke="#333" stroke-width="0.6" />
<text x="62" y="305.91" font-size="5.8" text-anchor="end" font-weight="normal" font-style="normal" fill="#111" >0.3</text>
<line x1="66.2" y1="303.81" x2="67.5" y2="303.81" stroke="#333" stroke-width="0.6" />
<text x="62" y="295.18" font-size="5.8" text-anchor="end" font-weight="normal" font-style="normal" fill="#111" >0.4</text>
<line x1="66.2" y1="293.08" x2="67.5" y2="293.08" stroke="#333" stroke-width="0.6" />
<text x="62" y="284.45000000000005" font-size="5.8" text-anchor="end" font-weight="normal" font-style="normal" fill="#111" >0.5</text>
<line x1="66.2" y1="282.35" x2="67.5" y2="282.35" stroke="#333" stroke-width="0.6" />
<text x="62" y="273.72" font-size="5.8" text-anchor="end" font-weight="normal" font-style="normal" fill="#111" >0.6</text>
<line x1="66.2" y1="271.62" x2="67.5" y2="271.62" stroke="#333" stroke-width="0.6" />
<text x="62" y="262.99" font-size="5.8" text-anchor="end" font-weight="normal" font-style="normal" fill="#111" >0.7</text>
<line x1="66.2" y1="260.89" x2="67.5" y2="260.89" stroke="#333" stroke-width="0.6" />
<text x="25.2" y="291.2" font-size="7.5" text-anchor="middle" font-weight="normal" font-style="normal" fill="#111" >Enrichment</text>
<text x="25.2" y="298.4" font-size="7.5" text-anchor="middle" font-weight="normal" font-style="normal" fill="#111" >score</text>
<text x="28.7" y="351" font-size="7.5" text-anchor="middle" font-weight="normal" font-style="normal" fill="#111" >Signature</text>
<text x="28.8" y="358.8" font-size="7.5" text-anchor="middle" font-weight="normal" font-style="normal" fill="#111" >genes</text>
<text x="33.7" y="388" font-size="7.5" text-anchor="middle" font-weight="normal" font-style="normal" fill="#111" >Genes</text>
<text x="33.9" y="395.8" font-size="7.5" text-anchor="middle" font-weight="normal" font-style="normal" fill="#111" >sorting</text>
<text x="33.7" y="403.5" font-size="7.5" text-anchor="middle" font-weight="normal" font-style="normal" fill="#111" >metric</text>
<text x="62" y="380.6" font-size="5.8" text-anchor="end" font-weight="normal" font-style="normal" fill="#111" >0.5</text>
<text x="62" y="391.1" font-size="5.8" text-anchor="end" font-weight="normal" font-style="normal" fill="#111" >0</text>
<text x="62.3" y="401.7" font-size="5.8" text-anchor="end" font-weight="normal" font-style="normal" fill="#111" >−0.5</text>
<text x="66.25" y="419.2" font-size="5.8" text-anchor="middle" font-weight="normal" font-style="normal" fill="#111" >1</text>
<text x="87.5" y="419.2" font-size="5.8" text-anchor="middle" font-weight="normal" font-style="normal" fill="#111" >5000</text>
<text x="108.75" y="419.2" font-size="5.8" text-anchor="middle" font-weight="normal" font-style="normal" fill="#111" >10000</text>
<text x="130" y="419.2" font-size="5.8" text-anchor="middle" font-weight="normal" font-style="normal" fill="#111" >15000</text>
<text x="151.25" y="419.2" font-size="5.8" text-anchor="middle" font-weight="normal" font-style="normal" fill="#111" >20000</text>
<text x="170" y="419.2" font-size="5.8" text-anchor="middle" font-weight="normal" font-style="normal" fill="#111" >24399</text>
<path d="M66.8,337.0 L67.5,311.4 L68.5,295.0 L70.2,286.8 L72.2,281.4 L74.3,274.6 L76.3,267.7 L78.1,260.2 L79.7,257.5 L82.5,256.1 L85.0,255.7 L88.0,255.5 L90.6,256.8 L96.1,262.6 L101.6,268.5 L110.0,277.0 L120.0,287.0 L130.0,297.2 L140.0,307.4 L146.8,314.5 L153.6,321.3 L160.5,328.1 L162.5,329.3 L166.0,332.5 L169.4,335.9" fill="none" stroke="#22b573" stroke-width="1.9" stroke-linejoin="round" stroke-linecap="round"/>
<rect x="66.6" y="337.5" width="5.400000000000006" height="29.7" fill="#4a4ae0" />
<rect x="72" y="337.5" width="2" height="29.7" fill="#9a9ae8" />
<rect x="74" y="337.5" width="1.5999999999999943" height="29.7" fill="#5a5ae6" />
<rect x="75.6" y="337.5" width="3.700000000000003" height="29.7" fill="#1010c0" />
<rect x="79.3" y="337.5" width="1.2000000000000028" height="29.7" fill="#c8c8f0" />
<rect x="80.5" y="337.5" width="1.5" height="29.7" fill="#9090d8" />
<rect x="82" y="337.5" width="2.5" height="29.7" fill="#b0b0ea" />
<rect x="84.5" y="337.5" width="1.0" height="29.7" fill="#6a6ae0" />
<rect x="85.5" y="337.5" width="1.5" height="29.7" fill="#d0d0f4" />
<rect x="87" y="337.5" width="0.7999999999999972" height="29.7" fill="#8080c8" />
<rect x="88.6" y="337.5" width="0.8000000000000114" height="29.7" fill="#9090d0" />
<rect x="97.6" y="337.5" width="0.8000000000000114" height="29.7" fill="#b0b0d8" />
<rect x="107.2" y="337.5" width="2.5999999999999943" height="29.7" fill="#7a7ab8" />
<rect x="114.8" y="337.5" width="0.7999999999999972" height="29.7" fill="#a0a0d8" />
<rect x="117" y="337.5" width="0.7999999999999972" height="29.7" fill="#a0a0d8" />
<rect x="119.6" y="337.5" width="0.8000000000000114" height="29.7" fill="#b0b0e0" />
<rect x="121.5" y="337.5" width="0.7999999999999972" height="29.7" fill="#a0a0e0" />
<rect x="122.8" y="337.5" width="0.7999999999999972" height="29.7" fill="#a0a0d8" />
<rect x="148.2" y="337.5" width="0.700000000000017" height="29.7" fill="#9090c8" />
<rect x="162.2" y="337.5" width="0.700000000000017" height="29.7" fill="#9090c8" />
<rect x="66.6" y="368.1" width="4.2" height="42" fill="#e4f2e0" />
<rect x="162.8" y="368.1" width="5.6" height="42" fill="#f6dede" />
<text transform="translate(70.4,407.5) rotate(-90)" font-size="4.1" fill="#1d5a1d" style="stroke:none">1447 down with p&lt;0.05</text>
<text transform="translate(167.4,407.5) rotate(-90)" font-size="4.1" fill="#6a2a2a" style="stroke:none">1590 up with p&lt;0.05</text>
<line x1="66.4" y1="410" x2="170" y2="368.2" stroke="#1414c8" stroke-width="2.6" />
<line x1="87.5" y1="410.6" x2="87.5" y2="408.8" stroke="#444" stroke-width="0.6" />
<line x1="108.75" y1="410.6" x2="108.75" y2="408.8" stroke="#444" stroke-width="0.6" />
<line x1="130" y1="410.6" x2="130" y2="408.8" stroke="#444" stroke-width="0.6" />
<line x1="151.25" y1="410.6" x2="151.25" y2="408.8" stroke="#444" stroke-width="0.6" />
<text x="192.4" y="244.6" font-size="11.2" text-anchor="start" font-weight="bold" font-style="normal" fill="#111" >C</text>
<text x="212.6" y="260.1" font-size="7.3" text-anchor="middle" font-weight="normal" font-style="normal" fill="#111" >Relative</text>
<text x="213.3" y="269.2" font-size="7.3" text-anchor="middle" font-weight="normal" font-style="italic" fill="#111" >MYC</text>
<text x="212.9" y="278.4" font-size="7.3" text-anchor="middle" font-weight="normal" font-style="normal" fill="#111" >mRNA</text>
<text x="211.9" y="287.3" font-size="7.3" text-anchor="middle" font-weight="normal" font-style="normal" fill="#111" >expression</text>
<text x="212.4" y="296.2" font-size="7.3" text-anchor="middle" font-weight="normal" font-style="normal" fill="#111" >(% of control</text>
<text x="212.9" y="305.3" font-size="7.3" text-anchor="middle" font-weight="normal" font-style="normal" fill="#111" >shRNA)</text>
<text x="285.3" y="241.4" font-size="7.5" text-anchor="middle" font-weight="normal" font-style="normal" fill="#111" >K299</text>
<rect x="249.3" y="246.3" width="76.19999999999999" height="61.0" fill="#fff" stroke="#222" stroke-width="0.8"/>
<text x="244.60000000000002" y="267.7" font-size="5.3" text-anchor="end" font-weight="normal" font-style="normal" fill="#111" >100</text>
<line x1="247.3" y1="265.8" x2="249.3" y2="265.8" stroke="#222" stroke-width="0.7" />
<text x="244.60000000000002" y="276.0" font-size="5.3" text-anchor="end" font-weight="normal" font-style="normal" fill="#111" >80</text>
<line x1="247.3" y1="274.1" x2="249.3" y2="274.1" stroke="#222" stroke-width="0.7" />
<text x="244.60000000000002" y="284.3" font-size="5.3" text-anchor="end" font-weight="normal" font-style="normal" fill="#111" >60</text>
<line x1="247.3" y1="282.40000000000003" x2="249.3" y2="282.40000000000003" stroke="#222" stroke-width="0.7" />
<text x="244.60000000000002" y="292.59999999999997" font-size="5.3" text-anchor="end" font-weight="normal" font-style="normal" fill="#111" >40</text>
<line x1="247.3" y1="290.7" x2="249.3" y2="290.7" stroke="#222" stroke-width="0.7" />
<text x="244.60000000000002" y="300.9" font-size="5.3" text-anchor="end" font-weight="normal" font-style="normal" fill="#111" >20</text>
<line x1="247.3" y1="299.0" x2="249.3" y2="299.0" stroke="#222" stroke-width="0.7" />
<rect x="257.2" y="265.8" width="10.6" height="41.5" fill="#2b4f80" stroke="#1a1a1a" stroke-width="0.8"/>
<line x1="262.5" y1="263.725" x2="262.5" y2="267.875" stroke="#111" stroke-width="0.9" />
<line x1="261.5" y1="263.725" x2="263.5" y2="263.725" stroke="#111" stroke-width="0.8" />
<rect x="281.7" y="282.1095" width="10.6" height="25.190499999999986" fill="#a9c4e4" stroke="#1a1a1a" stroke-width="0.8"/>
<line x1="287.0" y1="281.27950000000004" x2="287.0" y2="282.9395" stroke="#111" stroke-width="0.9" />
<line x1="286.0" y1="281.27950000000004" x2="288.0" y2="281.27950000000004" stroke="#111" stroke-width="0.8" />
<rect x="306.90000000000003" y="279.2875" width="10.6" height="28.01249999999999" fill="#c8dbef" stroke="#1a1a1a" stroke-width="0.8"/>
<line x1="312.20000000000005" y1="278.0425" x2="312.20000000000005" y2="280.5325" stroke="#111" stroke-width="0.9" />
<line x1="311.20000000000005" y1="278.0425" x2="313.20000000000005" y2="278.0425" stroke="#111" stroke-width="0.8" />
<path d="M261.5,253.4 L261.5,251.3 L287.0,251.3 L287.0,253.4" fill="none" stroke="#111" stroke-width="0.8" />
<path d="M261.5,257.8 L261.5,255.9 L313.00000000000006,255.9 L313.00000000000006,257.8" fill="none" stroke="#111" stroke-width="0.8" />
<text x="274.75" y="252.9" font-size="5.5" text-anchor="middle" font-weight="normal" font-style="normal" fill="#111" >**</text>
<text x="299.35" y="257.6" font-size="5.5" text-anchor="middle" font-weight="normal" font-style="normal" fill="#111" >**</text>
<text x="262.5" y="315.2" font-size="5.5" text-anchor="middle" font-weight="normal" font-style="normal" fill="#111" >Control</text>
<text x="262.5" y="322.3" font-size="5.5" text-anchor="middle" font-weight="normal" font-style="normal" fill="#111" >shRNA</text>
<text x="287.0" y="315.2" font-size="5.5" text-anchor="middle" font-weight="normal" font-style="italic" fill="#111" >IRF4</text>
<text x="287.0" y="322.3" font-size="5.5" text-anchor="middle" font-weight="normal" font-style="normal" fill="#111" >shRNA #1</text>
<text x="312.20000000000005" y="315.2" font-size="5.5" text-anchor="middle" font-weight="normal" font-style="italic" fill="#111" >IRF4</text>
<text x="312.20000000000005" y="322.3" font-size="5.5" text-anchor="middle" font-weight="normal" font-style="normal" fill="#111" >shRNA #2</text>
<text x="380.2" y="241.4" font-size="7.5" text-anchor="middle" font-weight="normal" font-style="normal" fill="#111" >JB6</text>
<rect x="344.3" y="246.3" width="76.19999999999999" height="61.0" fill="#fff" stroke="#222" stroke-width="0.8"/>
<text x="339.6" y="267.7" font-size="5.3" text-anchor="end" font-weight="normal" font-style="normal" fill="#111" >100</text>
<line x1="342.3" y1="265.8" x2="344.3" y2="265.8" stroke="#222" stroke-width="0.7" />
<text x="339.6" y="276.0" font-size="5.3" text-anchor="end" font-weight="normal" font-style="normal" fill="#111" >80</text>
<line x1="342.3" y1="274.1" x2="344.3" y2="274.1" stroke="#222" stroke-width="0.7" />
<text x="339.6" y="284.3" font-size="5.3" text-anchor="end" font-weight="normal" font-style="normal" fill="#111" >60</text>
<line x1="342.3" y1="282.40000000000003" x2="344.3" y2="282.40000000000003" stroke="#222" stroke-width="0.7" />
<text x="339.6" y="292.59999999999997" font-size="5.3" text-anchor="end" font-weight="normal" font-style="normal" fill="#111" >40</text>
<line x1="342.3" y1="290.7" x2="344.3" y2="290.7" stroke="#222" stroke-width="0.7" />
<text x="339.6" y="300.9" font-size="5.3" text-anchor="end" font-weight="normal" font-style="normal" fill="#111" >20</text>
<line x1="342.3" y1="299.0" x2="344.3" y2="299.0" stroke="#222" stroke-width="0.7" />
<rect x="352.2" y="265.8" width="10.6" height="41.5" fill="#2b4f80" stroke="#1a1a1a" stroke-width="0.8"/>
<line x1="357.5" y1="263.725" x2="357.5" y2="267.875" stroke="#111" stroke-width="0.9" />
<line x1="356.5" y1="263.725" x2="358.5" y2="263.725" stroke="#111" stroke-width="0.8" />
<rect x="376.7" y="284.06" width="10.6" height="23.24000000000001" fill="#a9c4e4" stroke="#1a1a1a" stroke-width="0.8"/>
<line x1="382.0" y1="283.23" x2="382.0" y2="284.89" stroke="#111" stroke-width="0.9" />
<line x1="381.0" y1="283.23" x2="383.0" y2="283.23" stroke="#111" stroke-width="0.8" />
<rect x="401.90000000000003" y="297.34000000000003" width="10.6" height="9.95999999999998" fill="#c8dbef" stroke="#1a1a1a" stroke-width="0.8"/>
<line x1="407.20000000000005" y1="296.095" x2="407.20000000000005" y2="298.58500000000004" stroke="#111" stroke-width="0.9" />
<line x1="406.20000000000005" y1="296.095" x2="408.20000000000005" y2="296.095" stroke="#111" stroke-width="0.8" />
<path d="M356.5,253.4 L356.5,251.3 L382.0,251.3 L382.0,253.4" fill="none" stroke="#111" stroke-width="0.8" />
<path d="M356.5,257.8 L356.5,255.9 L408.00000000000006,255.9 L408.00000000000006,257.8" fill="none" stroke="#111" stroke-width="0.8" />
<text x="369.75" y="252.9" font-size="5.5" text-anchor="middle" font-weight="normal" font-style="normal" fill="#111" >**</text>
<text x="394.35" y="257.6" font-size="5.5" text-anchor="middle" font-weight="normal" font-style="normal" fill="#111" >**</text>
<text x="357.5" y="315.2" font-size="5.5" text-anchor="middle" font-weight="normal" font-style="normal" fill="#111" >Control</text>
<text x="357.5" y="322.3" font-size="5.5" text-anchor="middle" font-weight="normal" font-style="normal" fill="#111" >shRNA</text>
<text x="382.0" y="315.2" font-size="5.5" text-anchor="middle" font-weight="normal" font-style="italic" fill="#111" >IRF4</text>
<text x="382.0" y="322.3" font-size="5.5" text-anchor="middle" font-weight="normal" font-style="normal" fill="#111" >shRNA #1</text>
<text x="407.20000000000005" y="315.2" font-size="5.5" text-anchor="middle" font-weight="normal" font-style="italic" fill="#111" >IRF4</text>
<text x="407.20000000000005" y="322.3" font-size="5.5" text-anchor="middle" font-weight="normal" font-style="normal" fill="#111" >shRNA #2</text>
<text x="478.1" y="241.4" font-size="7.5" text-anchor="middle" font-weight="normal" font-style="normal" fill="#111" >FE-PD</text>
<rect x="440.4" y="246.3" width="76.20000000000005" height="61.0" fill="#fff" stroke="#222" stroke-width="0.8"/>
<text x="435.7" y="267.7" font-size="5.3" text-anchor="end" font-weight="normal" font-style="normal" fill="#111" >100</text>
<line x1="438.4" y1="265.8" x2="440.4" y2="265.8" stroke="#222" stroke-width="0.7" />
<text x="435.7" y="276.0" font-size="5.3" text-anchor="end" font-weight="normal" font-style="normal" fill="#111" >80</text>
<line x1="438.4" y1="274.1" x2="440.4" y2="274.1" stroke="#222" stroke-width="0.7" />
<text x="435.7" y="284.3" font-size="5.3" text-anchor="end" font-weight="normal" font-style="normal" fill="#111" >60</text>
<line x1="438.4" y1="282.40000000000003" x2="440.4" y2="282.40000000000003" stroke="#222" stroke-width="0.7" />
<text x="435.7" y="292.59999999999997" font-size="5.3" text-anchor="end" font-weight="normal" font-style="normal" fill="#111" >40</text>
<line x1="438.4" y1="290.7" x2="440.4" y2="290.7" stroke="#222" stroke-width="0.7" />
<text x="435.7" y="300.9" font-size="5.3" text-anchor="end" font-weight="normal" font-style="normal" fill="#111" >20</text>
<line x1="438.4" y1="299.0" x2="440.4" y2="299.0" stroke="#222" stroke-width="0.7" />
<rect x="448.29999999999995" y="265.8" width="10.6" height="41.5" fill="#2b4f80" stroke="#1a1a1a" stroke-width="0.8"/>
<line x1="453.59999999999997" y1="263.725" x2="453.59999999999997" y2="267.875" stroke="#111" stroke-width="0.9" />
<line x1="452.59999999999997" y1="263.725" x2="454.59999999999997" y2="263.725" stroke="#111" stroke-width="0.8" />
<rect x="472.79999999999995" y="282.40000000000003" width="10.6" height="24.899999999999977" fill="#a9c4e4" stroke="#1a1a1a" stroke-width="0.8"/>
<line x1="478.09999999999997" y1="281.57000000000005" x2="478.09999999999997" y2="283.23" stroke="#111" stroke-width="0.9" />
<line x1="477.09999999999997" y1="281.57000000000005" x2="479.09999999999997" y2="281.57000000000005" stroke="#111" stroke-width="0.8" />
<rect x="498.0" y="279.2875" width="10.6" height="28.01249999999999" fill="#c8dbef" stroke="#1a1a1a" stroke-width="0.8"/>
<line x1="503.3" y1="277.6275" x2="503.3" y2="280.94750000000005" stroke="#111" stroke-width="0.9" />
<line x1="502.3" y1="277.6275" x2="504.3" y2="277.6275" stroke="#111" stroke-width="0.8" />
<path d="M452.59999999999997,253.4 L452.59999999999997,251.3 L478.09999999999997,251.3 L478.09999999999997,253.4" fill="none" stroke="#111" stroke-width="0.8" />
<path d="M452.59999999999997,257.8 L452.59999999999997,255.9 L504.1,255.9 L504.1,257.8" fill="none" stroke="#111" stroke-width="0.8" />
<text x="465.84999999999997" y="252.9" font-size="5.5" text-anchor="middle" font-weight="normal" font-style="normal" fill="#111" >**</text>
<text x="490.45" y="257.6" font-size="5.5" text-anchor="middle" font-weight="normal" font-style="normal" fill="#111" >**</text>
<text x="453.59999999999997" y="315.2" font-size="5.5" text-anchor="middle" font-weight="normal" font-style="normal" fill="#111" >Control</text>
<text x="453.59999999999997" y="322.3" font-size="5.5" text-anchor="middle" font-weight="normal" font-style="normal" fill="#111" >shRNA</text>
<text x="478.09999999999997" y="315.2" font-size="5.5" text-anchor="middle" font-weight="normal" font-style="italic" fill="#111" >IRF4</text>
<text x="478.09999999999997" y="322.3" font-size="5.5" text-anchor="middle" font-weight="normal" font-style="normal" fill="#111" >shRNA #1</text>
<text x="503.3" y="315.2" font-size="5.5" text-anchor="middle" font-weight="normal" font-style="italic" fill="#111" >IRF4</text>
<text x="503.3" y="322.3" font-size="5.5" text-anchor="middle" font-weight="normal" font-style="normal" fill="#111" >shRNA #2</text>
<text x="192.6" y="338.7" font-size="11" text-anchor="start" font-weight="bold" font-style="normal" fill="#111" >D</text>
<text x="231.7" y="349.7" font-size="7.4" text-anchor="end" font-weight="normal" font-style="normal" fill="#111" >Cell line:</text>
<text x="231.7" y="363.1" font-size="7.4" text-anchor="end" font-weight="normal" font-style="normal" fill="#111" >shRNA:</text>
<text x="231.7" y="377.5" font-size="7.4" text-anchor="end" font-weight="normal" font-style="normal" fill="#111" >IRF4</text>
<text x="231.7" y="394.4" font-size="7.4" text-anchor="end" font-weight="normal" font-style="normal" fill="#111" >MYC</text>
<text x="231.7" y="411" font-size="7.4" text-anchor="end" font-weight="normal" font-style="normal" fill="#111" >Tubulin</text>
<defs><filter id="blur" x="-20%" y="-100%" width="140%" height="300%"><feGaussianBlur stdDeviation="0.9"/></filter></defs>
<text x="289.8" y="348.7" font-size="7.5" text-anchor="middle" font-weight="normal" font-style="normal" fill="#111" >K299</text>
<path d="M249.4,356.4 L249.4,352.3 L334.2,352.3 L334.2,356.4" fill="none" stroke="#222" stroke-width="0.9" />
<text x="264.7" y="361.5" font-size="6.6" text-anchor="middle" font-weight="normal" font-style="normal" fill="#111" >Control</text>
<text x="293.0" y="361.5" font-size="6.6" text-anchor="middle" font-weight="normal" font-style="italic" fill="#111" >IRF4 #1</text>
<text x="321.0" y="361.5" font-size="6.6" text-anchor="middle" font-weight="normal" font-style="italic" fill="#111" >IRF4 #2</text>
<rect x="249.4" y="370.1" width="84.79999999999998" height="11.899999999999977" fill="#ececec" stroke="#1a1a1a" stroke-width="1"/>
<rect x="249.4" y="387.5" width="84.79999999999998" height="11.899999999999977" fill="#e8e8e8" stroke="#1a1a1a" stroke-width="1"/>
<rect x="249.4" y="404" width="84.79999999999998" height="11.800000000000011" fill="#e2e2e2" stroke="#1a1a1a" stroke-width="1"/>
<rect x="253.20" y="373.40" width="23" height="3.6" rx="1.8" fill="rgba(0,0,0,0.97)" filter="url(#blur)"/>
<rect x="282.00" y="374.30" width="22" height="2.6" rx="1.3" fill="rgba(0,0,0,0.22)" filter="url(#blur)"/>
<rect x="310.00" y="374.30" width="22" height="2.6" rx="1.3" fill="rgba(0,0,0,0.28)" filter="url(#blur)"/>
<rect x="253.20" y="389.60" width="23" height="2.8" rx="1.4" fill="rgba(0,0,0,0.55)" filter="url(#blur)"/>
<rect x="253.20" y="392.70" width="23" height="3.2" rx="1.6" fill="rgba(0,0,0,0.9)" filter="url(#blur)"/>
<rect x="282.00" y="390.00" width="22" height="2.6" rx="1.3" fill="rgba(0,0,0,0.3)" filter="url(#blur)"/>
<rect x="282.00" y="393.10" width="22" height="3" rx="1.5" fill="rgba(0,0,0,0.7)" filter="url(#blur)"/>
<rect x="310.00" y="390.00" width="22" height="2.6" rx="1.3" fill="rgba(0,0,0,0.3)" filter="url(#blur)"/>
<rect x="310.00" y="393.30" width="22" height="3" rx="1.5" fill="rgba(0,0,0,0.75)" filter="url(#blur)"/>
<rect x="252.70" y="408.00" width="24" height="2.8" rx="1.4" fill="rgba(0,0,0,0.88)" filter="url(#blur)"/>
<rect x="281.00" y="408.00" width="24" height="2.8" rx="1.4" fill="rgba(0,0,0,0.85)" filter="url(#blur)"/>
<rect x="309.00" y="408.00" width="24" height="2.8" rx="1.4" fill="rgba(0,0,0,0.88)" filter="url(#blur)"/>
<text x="381.7" y="348.7" font-size="7.5" text-anchor="middle" font-weight="normal" font-style="normal" fill="#111" >JB6</text>
<path d="M341.3,356.4 L341.3,352.3 L425,352.3 L425,356.4" fill="none" stroke="#222" stroke-width="0.9" />
<text x="356.90000000000003" y="361.5" font-size="6.6" text-anchor="middle" font-weight="normal" font-style="normal" fill="#111" >Control</text>
<text x="382.90000000000003" y="361.5" font-size="6.6" text-anchor="middle" font-weight="normal" font-style="italic" fill="#111" >IRF4 #1</text>
<text x="411.20000000000005" y="361.5" font-size="6.6" text-anchor="middle" font-weight="normal" font-style="italic" fill="#111" >IRF4 #2</text>
<rect x="341.3" y="370.1" width="83.69999999999999" height="11.899999999999977" fill="#efefef" stroke="#1a1a1a" stroke-width="1"/>
<rect x="341.3" y="387.5" width="83.69999999999999" height="11.899999999999977" fill="#e8e8e8" stroke="#1a1a1a" stroke-width="1"/>
<rect x="341.3" y="404" width="83.69999999999999" height="11.800000000000011" fill="#d6d6d6" stroke="#1a1a1a" stroke-width="1"/>
<rect x="345.40" y="371.80" width="23" height="3.6" rx="1.8" fill="rgba(0,0,0,0.97)" filter="url(#blur)"/>
<rect x="371.90" y="374.00" width="22" height="2.4" rx="1.2" fill="rgba(0,0,0,0.15)" filter="url(#blur)"/>
<rect x="400.20" y="374.00" width="22" height="2.4" rx="1.2" fill="rgba(0,0,0,0.15)" filter="url(#blur)"/>
<rect x="345.90" y="389.10" width="22" height="2.8" rx="1.4" fill="rgba(0,0,0,0.5)" filter="url(#blur)"/>
<rect x="345.40" y="391.60" width="23" height="3.6" rx="1.8" fill="rgba(0,0,0,0.92)" filter="url(#blur)"/>
<rect x="371.90" y="390.20" width="22" height="2.6" rx="1.3" fill="rgba(0,0,0,0.25)" filter="url(#blur)"/>
<rect x="371.40" y="393.40" width="23" height="3.2" rx="1.6" fill="rgba(0,0,0,0.65)" filter="url(#blur)"/>
<rect x="400.20" y="390.20" width="22" height="2.6" rx="1.3" fill="rgba(0,0,0,0.3)" filter="url(#blur)"/>
<rect x="399.70" y="393.40" width="23" height="3.2" rx="1.6" fill="rgba(0,0,0,0.75)" filter="url(#blur)"/>
<rect x="344.90" y="407.80" width="24" height="2.8" rx="1.4" fill="rgba(0,0,0,0.85)" filter="url(#blur)"/>
<rect x="370.90" y="409.20" width="24" height="2.8" rx="1.4" fill="rgba(0,0,0,0.85)" filter="url(#blur)"/>
<rect x="399.20" y="408.70" width="24" height="2.8" rx="1.4" fill="rgba(0,0,0,0.85)" filter="url(#blur)"/>
<text x="473.4" y="348.7" font-size="7.5" text-anchor="middle" font-weight="normal" font-style="normal" fill="#111" >FE-PD</text>
<path d="M433,356.4 L433,352.3 L516.7,352.3 L516.7,356.4" fill="none" stroke="#222" stroke-width="0.9" />
<text x="447.2" y="361.5" font-size="6.6" text-anchor="middle" font-weight="normal" font-style="normal" fill="#111" >Control</text>
<text x="475" y="361.5" font-size="6.6" text-anchor="middle" font-weight="normal" font-style="italic" fill="#111" >IRF4 #1</text>
<text x="503.3" y="361.5" font-size="6.6" text-anchor="middle" font-weight="normal" font-style="italic" fill="#111" >IRF4 #2</text>
<rect x="433" y="370.1" width="83.70000000000005" height="11.899999999999977" fill="#ececec" stroke="#1a1a1a" stroke-width="1"/>
<rect x="433" y="387.5" width="83.70000000000005" height="11.899999999999977" fill="#e8e8e8" stroke="#1a1a1a" stroke-width="1"/>
<rect x="433" y="404" width="83.70000000000005" height="11.800000000000011" fill="#e2e2e2" stroke="#1a1a1a" stroke-width="1"/>
<rect x="435.20" y="372.40" width="24" height="4.6" rx="2.3" fill="rgba(0,0,0,1.0)" filter="url(#blur)"/>
<rect x="464.00" y="374.90" width="22" height="2.2" rx="1.1" fill="rgba(0,0,0,0.05)" filter="url(#blur)"/>
<rect x="492.30" y="374.80" width="22" height="2.4" rx="1.2" fill="rgba(0,0,0,0.18)" filter="url(#blur)"/>
<rect x="435.20" y="390.70" width="24" height="3.4" rx="1.7" fill="rgba(0,0,0,0.92)" filter="url(#blur)"/>
<rect x="464.00" y="393.30" width="22" height="2.6" rx="1.3" fill="rgba(0,0,0,0.2)" filter="url(#blur)"/>
<rect x="492.30" y="392.30" width="22" height="3" rx="1.5" fill="rgba(0,0,0,0.55)" filter="url(#blur)"/>
<rect x="435.20" y="407.00" width="24" height="2.8" rx="1.4" fill="rgba(0,0,0,0.9)" filter="url(#blur)"/>
<rect x="464.00" y="409.80" width="22" height="3" rx="1.5" fill="rgba(0,0,0,0.95)" filter="url(#blur)"/>
<rect x="491.30" y="408.70" width="24" height="2.8" rx="1.4" fill="rgba(0,0,0,0.9)" filter="url(#blur)"/>
<text x="0" y="442.5" font-size="11" text-anchor="start" font-weight="bold" font-style="normal" fill="#111" >E</text>
<text x="23.3" y="441.3" font-size="7.2" text-anchor="start" font-weight="normal" font-style="normal" fill="#111" >Gene:</text>
<text x="23.3" y="453.7" font-size="7.2" text-anchor="start" font-weight="normal" font-style="normal" fill="#111" >PCR</text>
<text x="23.3" y="463.7" font-size="7.2" text-anchor="start" font-weight="normal" font-style="normal" fill="#111" >position:</text>
<text x="22.5" y="480" font-size="7.2" text-anchor="start" font-weight="normal" font-style="normal" fill="#111" >Cell line:</text>
<path d="M81.6,448.5 L81.6,443.5 L209.8,443.5 L209.8,448.5" fill="none" stroke="#222" stroke-width="0.9" />
<text x="146.6" y="439.7" font-size="7.2" text-anchor="middle" font-weight="normal" font-style="italic" fill="#111" >MYC</text>
<path d="M223.6,448.5 L223.6,443.5 L280.5,443.5 L280.5,448.5" fill="none" stroke="#222" stroke-width="0.9" />
<text x="253" y="439.7" font-size="7.2" text-anchor="middle" font-weight="normal" font-style="italic" fill="#111" >SDK1 (Control)</text>
<path d="M81.6,471.7 L81.6,467.3 L138.1,467.3 L138.1,471.7" fill="none" stroke="#222" stroke-width="0.9" />
<text x="110.35" y="463" font-size="7.2" text-anchor="middle" font-weight="normal" font-style="normal" fill="#111" >-0.4 kb</text>
<path d="M81.6,488.5 L81.6,483.6 L138.1,483.6 L138.1,488.5" fill="none" stroke="#222" stroke-width="0.9" />
<line x1="109.05" y1="483.6" x2="109.05" y2="488.5" stroke="#111" stroke-width="1.5" />
<text x="95.82499999999999" y="479.8" font-size="7.2" text-anchor="middle" font-weight="normal" font-style="normal" fill="#111" >DEL</text>
<text x="123.87499999999999" y="479.8" font-size="7.2" text-anchor="middle" font-weight="normal" font-style="normal" fill="#111" >FE-PD</text>
<path d="M153,471.7 L153,467.3 L209.8,467.3 L209.8,471.7" fill="none" stroke="#222" stroke-width="0.9" />
<text x="181.9" y="463" font-size="7.2" text-anchor="middle" font-weight="normal" font-style="normal" fill="#111" >+0.3 kb</text>
<path d="M153,488.5 L153,483.6 L209.8,483.6 L209.8,488.5" fill="none" stroke="#222" stroke-width="0.9" />
<line x1="180.6" y1="483.6" x2="180.6" y2="488.5" stroke="#111" stroke-width="1.5" />
<text x="167.3" y="479.8" font-size="7.2" text-anchor="middle" font-weight="normal" font-style="normal" fill="#111" >DEL</text>
<text x="195.5" y="479.8" font-size="7.2" text-anchor="middle" font-weight="normal" font-style="normal" fill="#111" >FE-PD</text>
<path d="M223.6,471.7 L223.6,467.3 L280.5,467.3 L280.5,471.7" fill="none" stroke="#222" stroke-width="0.9" />
<text x="252.55" y="463" font-size="7.2" text-anchor="middle" font-weight="normal" font-style="normal" fill="#111" >-182.7 kb</text>
<path d="M223.6,488.5 L223.6,483.6 L280.5,483.6 L280.5,488.5" fill="none" stroke="#222" stroke-width="0.9" />
<line x1="251.25" y1="483.6" x2="251.25" y2="488.5" stroke="#111" stroke-width="1.5" />
<text x="237.925" y="479.8" font-size="7.2" text-anchor="middle" font-weight="normal" font-style="normal" fill="#111" >DEL</text>
<text x="266.175" y="479.8" font-size="7.2" text-anchor="middle" font-weight="normal" font-style="normal" fill="#111" >FE-PD</text>
<line x1="80.7" y1="491.5" x2="80.7" y2="631" stroke="#222" stroke-width="1" />
<line x1="80.7" y1="491.5" x2="280.8" y2="491.5" stroke="#222" stroke-width="0.9" />
<line x1="280.8" y1="491.5" x2="280.8" y2="631" stroke="#222" stroke-width="0.9" />
<line x1="80.2" y1="630.8" x2="280.8" y2="630.8" stroke="#222" stroke-width="1" />
<text x="75.6" y="619.3222222222222" font-size="7" text-anchor="end" font-weight="normal" font-style="normal" fill="#111" >0.2</text>
<line x1="77.6" y1="616.8222222222222" x2="80.7" y2="616.8222222222222" stroke="#222" stroke-width="0.8" />
<text x="75.6" y="605.3444444444444" font-size="7" text-anchor="end" font-weight="normal" font-style="normal" fill="#111" >0.4</text>
<line x1="77.6" y1="602.8444444444444" x2="80.7" y2="602.8444444444444" stroke="#222" stroke-width="0.8" />
<text x="75.6" y="591.3666666666667" font-size="7" text-anchor="end" font-weight="normal" font-style="normal" fill="#111" >0.6</text>
<line x1="77.6" y1="588.8666666666667" x2="80.7" y2="588.8666666666667" stroke="#222" stroke-width="0.8" />
<text x="75.6" y="577.3888888888889" font-size="7" text-anchor="end" font-weight="normal" font-style="normal" fill="#111" >0.8</text>
<line x1="77.6" y1="574.8888888888889" x2="80.7" y2="574.8888888888889" stroke="#222" stroke-width="0.8" />
<text x="75.6" y="563.411111111111" font-size="7" text-anchor="end" font-weight="normal" font-style="normal" fill="#111" >1.0</text>
<line x1="77.6" y1="560.911111111111" x2="80.7" y2="560.911111111111" stroke="#222" stroke-width="0.8" />
<text x="75.6" y="549.4333333333333" font-size="7" text-anchor="end" font-weight="normal" font-style="normal" fill="#111" >1.2</text>
<line x1="77.6" y1="546.9333333333333" x2="80.7" y2="546.9333333333333" stroke="#222" stroke-width="0.8" />
<text x="75.6" y="535.4555555555555" font-size="7" text-anchor="end" font-weight="normal" font-style="normal" fill="#111" >1.4</text>
<line x1="77.6" y1="532.9555555555555" x2="80.7" y2="532.9555555555555" stroke="#222" stroke-width="0.8" />
<text x="75.6" y="521.4777777777778" font-size="7" text-anchor="end" font-weight="normal" font-style="normal" fill="#111" >1.6</text>
<line x1="77.6" y1="518.9777777777778" x2="80.7" y2="518.9777777777778" stroke="#222" stroke-width="0.8" />
<text x="75.6" y="507.5" font-size="7" text-anchor="end" font-weight="normal" font-style="normal" fill="#111" >1.8</text>
<line x1="77.6" y1="505.0" x2="80.7" y2="505.0" stroke="#222" stroke-width="0.8" />
<text x="34" y="541.5" font-size="7.2" text-anchor="middle" font-weight="normal" font-style="normal" fill="#111" >ChIP signal</text>
<text x="34" y="550.5" font-size="7.2" text-anchor="middle" font-weight="normal" font-style="normal" fill="#111" >(arbitrary</text>
<text x="34" y="559.8" font-size="7.2" text-anchor="middle" font-weight="normal" font-style="normal" fill="#111" >units)</text>
<text x="20" y="643.5" font-size="7.2" text-anchor="start" font-weight="normal" font-style="normal" fill="#111" >ChIP</text>
<text x="20" y="652" font-size="7.2" text-anchor="start" font-weight="normal" font-style="normal" fill="#111" >antibody:</text>
<rect x="81.8" y="629.7516666666667" width="13" height="1.0483333333332894" fill="#ddd" stroke="#1a1a1a" stroke-width="0.8"/>
<line x1="88.3" y1="628.3538888888888" x2="88.3" y2="631.1494444444445" stroke="#111" stroke-width="0.9" />
<line x1="87.1" y1="628.3538888888888" x2="89.5" y2="628.3538888888888" stroke="#111" stroke-width="0.9" />
<line x1="87.1" y1="631.1494444444445" x2="89.5" y2="631.1494444444445" stroke="#111" stroke-width="0.9" />
<rect x="96" y="556.7177777777778" width="13" height="74.08222222222219" fill="#a9443d" stroke="#1a1a1a" stroke-width="0.8"/>
<line x1="102.5" y1="536.45" x2="102.5" y2="576.9855555555555" stroke="#111" stroke-width="0.9" />
<line x1="101.3" y1="536.45" x2="103.7" y2="536.45" stroke="#111" stroke-width="0.9" />
<line x1="101.3" y1="576.9855555555555" x2="103.7" y2="576.9855555555555" stroke="#111" stroke-width="0.9" />
<rect x="110.6" y="624.51" width="13" height="6.289999999999964" fill="#cadcef" stroke="#1a1a1a" stroke-width="0.8"/>
<line x1="117.1" y1="618.9188888888889" x2="117.1" y2="630.1011111111111" stroke="#111" stroke-width="0.9" />
<line x1="115.89999999999999" y1="618.9188888888889" x2="118.3" y2="618.9188888888889" stroke="#111" stroke-width="0.9" />
<line x1="115.89999999999999" y1="630.1011111111111" x2="118.3" y2="630.1011111111111" stroke="#111" stroke-width="0.9" />
<rect x="124.4" y="511.9888888888889" width="13.5" height="118.81111111111107" fill="#3d6ea6" stroke="#1a1a1a" stroke-width="0.8"/>
<line x1="131.15" y1="501.50555555555553" x2="131.15" y2="522.4722222222222" stroke="#111" stroke-width="0.9" />
<line x1="129.95000000000002" y1="501.50555555555553" x2="132.35" y2="501.50555555555553" stroke="#111" stroke-width="0.9" />
<line x1="129.95000000000002" y1="522.4722222222222" x2="132.35" y2="522.4722222222222" stroke="#111" stroke-width="0.9" />
<rect x="167.4" y="590.9633333333334" width="13" height="39.83666666666659" fill="#a9443d" stroke="#1a1a1a" stroke-width="0.8"/>
<line x1="173.9" y1="586.77" x2="173.9" y2="595.1566666666668" stroke="#111" stroke-width="0.9" />
<line x1="172.70000000000002" y1="586.77" x2="175.1" y2="586.77" stroke="#111" stroke-width="0.9" />
<line x1="172.70000000000002" y1="595.1566666666668" x2="175.1" y2="595.1566666666668" stroke="#111" stroke-width="0.9" />
<rect x="195.7" y="600.7477777777777" width="14" height="30.052222222222213" fill="#3d6ea6" stroke="#1a1a1a" stroke-width="0.8"/>
<line x1="202.7" y1="595.8555555555555" x2="202.7" y2="605.64" stroke="#111" stroke-width="0.9" />
<line x1="201.5" y1="595.8555555555555" x2="203.89999999999998" y2="595.8555555555555" stroke="#111" stroke-width="0.9" />
<line x1="201.5" y1="605.64" x2="203.89999999999998" y2="605.64" stroke="#111" stroke-width="0.9" />
<text transform="translate(91.20,635.6) rotate(-90)" font-size="7.2" text-anchor="end" fill="#111">Control</text>
<text transform="translate(105.90,635.6) rotate(-90)" font-size="7.2" text-anchor="end" fill="#111">IRF4</text>
<text transform="translate(121.10,635.6) rotate(-90)" font-size="7.2" text-anchor="end" fill="#111">Control</text>
<text transform="translate(134.90,635.6) rotate(-90)" font-size="7.2" text-anchor="end" fill="#111">IRF4</text>
<text transform="translate(162.20,635.6) rotate(-90)" font-size="7.2" text-anchor="end" fill="#111">Control</text>
<text transform="translate(176.60,635.6) rotate(-90)" font-size="7.2" text-anchor="end" fill="#111">IRF4</text>
<text transform="translate(190.20,635.6) rotate(-90)" font-size="7.2" text-anchor="end" fill="#111">Control</text>
<text transform="translate(204.00,635.6) rotate(-90)" font-size="7.2" text-anchor="end" fill="#111">IRF4</text>
<text transform="translate(233.50,635.6) rotate(-90)" font-size="7.2" text-anchor="end" fill="#111">Control</text>
<text transform="translate(247.90,635.6) rotate(-90)" font-size="7.2" text-anchor="end" fill="#111">IRF4</text>
<text transform="translate(262.30,635.6) rotate(-90)" font-size="7.2" text-anchor="end" fill="#111">Control</text>
<text transform="translate(275.90,635.6) rotate(-90)" font-size="7.2" text-anchor="end" fill="#111">IRF4</text>
</svg></body></html>
